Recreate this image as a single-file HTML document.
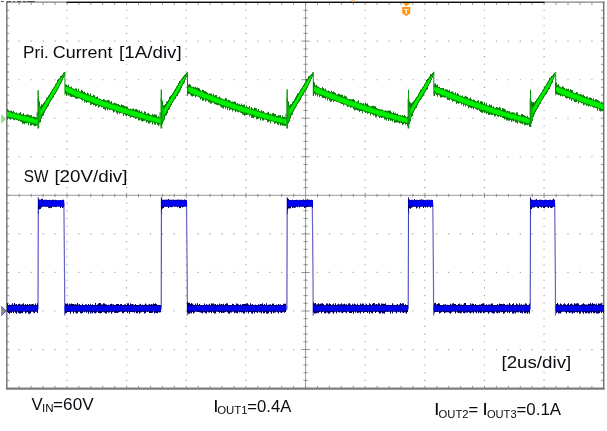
<!DOCTYPE html>
<html lang="en">
<head>
<meta charset="utf-8">
<title>Primary current and SW node waveforms</title>
<style>
html,body{margin:0;padding:0;background:#fff}
body{width:607px;height:431px;overflow:hidden}
svg{display:block}
.dots{stroke:#a2a2a2;stroke-width:1.1;fill:none}
.axis{stroke:#757575;stroke-width:.75;fill:none}
.tick{stroke:#7a7a7a;stroke-width:.8;fill:none}
.frame{stroke:#6f6f72;stroke-width:1.4;fill:none}
.frame.r{stroke:#75757a;stroke-width:1.5}
.frame.b{stroke:#7c7c7c;stroke-width:2.3}
.frame.t{stroke:#555;stroke-width:.9}
.frame.tk{stroke:#0c1010;stroke-width:1.25}
.frame.td{stroke:#333;stroke-width:.8}
.go{stroke:#087c08;stroke-width:1.05;fill:none}
.gi{fill:#00f000}
.gk{fill:#06c406}
.gs{stroke:#0b940b;stroke-width:1.7;fill:none}
.gt{stroke:#0d9a0d;stroke-width:1;fill:none}
.bo{stroke:#06066e;stroke-width:1.05;fill:none}
.bi{fill:#0000f2}
.bs{stroke:#6666c4;stroke-width:1.2;fill:none}
.br{stroke:#2c2cb2;stroke-width:.95;fill:none}
.lbl text{font-family:"Liberation Sans",sans-serif;font-size:16.8px;fill:#0b0b12;white-space:pre}
.trg{font-family:"Liberation Sans",sans-serif;font-weight:bold;font-size:8px;fill:#fff}
</style>
</head>
<body>
<svg width="607" height="431" viewBox="0 0 607 431">
<defs><filter id="soft" x="0" y="0" width="607" height="431" filterUnits="userSpaceOnUse"><feGaussianBlur stdDeviation="0.38"/></filter></defs>
<rect width="607" height="431" fill="#fff"/>
<path class="dots" d="M18.6 41.1h1.2M30.6 41.1h1.2M42.5 41.1h1.2M54.4 41.1h1.2M66.4 41.1h1.2M78.3 41.1h1.2M90.2 41.1h1.2M102.1 41.1h1.2M114.1 41.1h1.2M126 41.1h1.2M137.9 41.1h1.2M149.9 41.1h1.2M161.8 41.1h1.2M173.7 41.1h1.2M185.7 41.1h1.2M197.6 41.1h1.2M209.5 41.1h1.2M221.4 41.1h1.2M233.4 41.1h1.2M245.3 41.1h1.2M257.2 41.1h1.2M269.2 41.1h1.2M281.1 41.1h1.2M293 41.1h1.2M304.9 41.1h1.2M316.9 41.1h1.2M328.8 41.1h1.2M340.7 41.1h1.2M352.7 41.1h1.2M364.6 41.1h1.2M376.5 41.1h1.2M388.5 41.1h1.2M400.4 41.1h1.2M412.3 41.1h1.2M424.2 41.1h1.2M436.2 41.1h1.2M448.1 41.1h1.2M460 41.1h1.2M472 41.1h1.2M483.9 41.1h1.2M495.8 41.1h1.2M507.8 41.1h1.2M519.7 41.1h1.2M531.6 41.1h1.2M543.5 41.1h1.2M555.5 41.1h1.2M567.4 41.1h1.2M579.3 41.1h1.2M591.3 41.1h1.2M18.6 79.7h1.2M30.6 79.7h1.2M42.5 79.7h1.2M54.4 79.7h1.2M66.4 79.7h1.2M78.3 79.7h1.2M90.2 79.7h1.2M102.1 79.7h1.2M114.1 79.7h1.2M126 79.7h1.2M137.9 79.7h1.2M149.9 79.7h1.2M161.8 79.7h1.2M173.7 79.7h1.2M185.7 79.7h1.2M197.6 79.7h1.2M209.5 79.7h1.2M221.4 79.7h1.2M233.4 79.7h1.2M245.3 79.7h1.2M257.2 79.7h1.2M269.2 79.7h1.2M281.1 79.7h1.2M293 79.7h1.2M304.9 79.7h1.2M316.9 79.7h1.2M328.8 79.7h1.2M340.7 79.7h1.2M352.7 79.7h1.2M364.6 79.7h1.2M376.5 79.7h1.2M388.5 79.7h1.2M400.4 79.7h1.2M412.3 79.7h1.2M424.2 79.7h1.2M436.2 79.7h1.2M448.1 79.7h1.2M460 79.7h1.2M472 79.7h1.2M483.9 79.7h1.2M495.8 79.7h1.2M507.8 79.7h1.2M519.7 79.7h1.2M531.6 79.7h1.2M543.5 79.7h1.2M555.5 79.7h1.2M567.4 79.7h1.2M579.3 79.7h1.2M591.3 79.7h1.2M18.6 118.2h1.2M30.6 118.2h1.2M42.5 118.2h1.2M54.4 118.2h1.2M66.4 118.2h1.2M78.3 118.2h1.2M90.2 118.2h1.2M102.1 118.2h1.2M114.1 118.2h1.2M126 118.2h1.2M137.9 118.2h1.2M149.9 118.2h1.2M161.8 118.2h1.2M173.7 118.2h1.2M185.7 118.2h1.2M197.6 118.2h1.2M209.5 118.2h1.2M221.4 118.2h1.2M233.4 118.2h1.2M245.3 118.2h1.2M257.2 118.2h1.2M269.2 118.2h1.2M281.1 118.2h1.2M293 118.2h1.2M304.9 118.2h1.2M316.9 118.2h1.2M328.8 118.2h1.2M340.7 118.2h1.2M352.7 118.2h1.2M364.6 118.2h1.2M376.5 118.2h1.2M388.5 118.2h1.2M400.4 118.2h1.2M412.3 118.2h1.2M424.2 118.2h1.2M436.2 118.2h1.2M448.1 118.2h1.2M460 118.2h1.2M472 118.2h1.2M483.9 118.2h1.2M495.8 118.2h1.2M507.8 118.2h1.2M519.7 118.2h1.2M531.6 118.2h1.2M543.5 118.2h1.2M555.5 118.2h1.2M567.4 118.2h1.2M579.3 118.2h1.2M591.3 118.2h1.2M18.6 156.8h1.2M30.6 156.8h1.2M42.5 156.8h1.2M54.4 156.8h1.2M66.4 156.8h1.2M78.3 156.8h1.2M90.2 156.8h1.2M102.1 156.8h1.2M114.1 156.8h1.2M126 156.8h1.2M137.9 156.8h1.2M149.9 156.8h1.2M161.8 156.8h1.2M173.7 156.8h1.2M185.7 156.8h1.2M197.6 156.8h1.2M209.5 156.8h1.2M221.4 156.8h1.2M233.4 156.8h1.2M245.3 156.8h1.2M257.2 156.8h1.2M269.2 156.8h1.2M281.1 156.8h1.2M293 156.8h1.2M304.9 156.8h1.2M316.9 156.8h1.2M328.8 156.8h1.2M340.7 156.8h1.2M352.7 156.8h1.2M364.6 156.8h1.2M376.5 156.8h1.2M388.5 156.8h1.2M400.4 156.8h1.2M412.3 156.8h1.2M424.2 156.8h1.2M436.2 156.8h1.2M448.1 156.8h1.2M460 156.8h1.2M472 156.8h1.2M483.9 156.8h1.2M495.8 156.8h1.2M507.8 156.8h1.2M519.7 156.8h1.2M531.6 156.8h1.2M543.5 156.8h1.2M555.5 156.8h1.2M567.4 156.8h1.2M579.3 156.8h1.2M591.3 156.8h1.2M18.6 233.9h1.2M30.6 233.9h1.2M42.5 233.9h1.2M54.4 233.9h1.2M66.4 233.9h1.2M78.3 233.9h1.2M90.2 233.9h1.2M102.1 233.9h1.2M114.1 233.9h1.2M126 233.9h1.2M137.9 233.9h1.2M149.9 233.9h1.2M161.8 233.9h1.2M173.7 233.9h1.2M185.7 233.9h1.2M197.6 233.9h1.2M209.5 233.9h1.2M221.4 233.9h1.2M233.4 233.9h1.2M245.3 233.9h1.2M257.2 233.9h1.2M269.2 233.9h1.2M281.1 233.9h1.2M293 233.9h1.2M304.9 233.9h1.2M316.9 233.9h1.2M328.8 233.9h1.2M340.7 233.9h1.2M352.7 233.9h1.2M364.6 233.9h1.2M376.5 233.9h1.2M388.5 233.9h1.2M400.4 233.9h1.2M412.3 233.9h1.2M424.2 233.9h1.2M436.2 233.9h1.2M448.1 233.9h1.2M460 233.9h1.2M472 233.9h1.2M483.9 233.9h1.2M495.8 233.9h1.2M507.8 233.9h1.2M519.7 233.9h1.2M531.6 233.9h1.2M543.5 233.9h1.2M555.5 233.9h1.2M567.4 233.9h1.2M579.3 233.9h1.2M591.3 233.9h1.2M18.6 272.4h1.2M30.6 272.4h1.2M42.5 272.4h1.2M54.4 272.4h1.2M66.4 272.4h1.2M78.3 272.4h1.2M90.2 272.4h1.2M102.1 272.4h1.2M114.1 272.4h1.2M126 272.4h1.2M137.9 272.4h1.2M149.9 272.4h1.2M161.8 272.4h1.2M173.7 272.4h1.2M185.7 272.4h1.2M197.6 272.4h1.2M209.5 272.4h1.2M221.4 272.4h1.2M233.4 272.4h1.2M245.3 272.4h1.2M257.2 272.4h1.2M269.2 272.4h1.2M281.1 272.4h1.2M293 272.4h1.2M304.9 272.4h1.2M316.9 272.4h1.2M328.8 272.4h1.2M340.7 272.4h1.2M352.7 272.4h1.2M364.6 272.4h1.2M376.5 272.4h1.2M388.5 272.4h1.2M400.4 272.4h1.2M412.3 272.4h1.2M424.2 272.4h1.2M436.2 272.4h1.2M448.1 272.4h1.2M460 272.4h1.2M472 272.4h1.2M483.9 272.4h1.2M495.8 272.4h1.2M507.8 272.4h1.2M519.7 272.4h1.2M531.6 272.4h1.2M543.5 272.4h1.2M555.5 272.4h1.2M567.4 272.4h1.2M579.3 272.4h1.2M591.3 272.4h1.2M18.6 311h1.2M30.6 311h1.2M42.5 311h1.2M54.4 311h1.2M66.4 311h1.2M78.3 311h1.2M90.2 311h1.2M102.1 311h1.2M114.1 311h1.2M126 311h1.2M137.9 311h1.2M149.9 311h1.2M161.8 311h1.2M173.7 311h1.2M185.7 311h1.2M197.6 311h1.2M209.5 311h1.2M221.4 311h1.2M233.4 311h1.2M245.3 311h1.2M257.2 311h1.2M269.2 311h1.2M281.1 311h1.2M293 311h1.2M304.9 311h1.2M316.9 311h1.2M328.8 311h1.2M340.7 311h1.2M352.7 311h1.2M364.6 311h1.2M376.5 311h1.2M388.5 311h1.2M400.4 311h1.2M412.3 311h1.2M424.2 311h1.2M436.2 311h1.2M448.1 311h1.2M460 311h1.2M472 311h1.2M483.9 311h1.2M495.8 311h1.2M507.8 311h1.2M519.7 311h1.2M531.6 311h1.2M543.5 311h1.2M555.5 311h1.2M567.4 311h1.2M579.3 311h1.2M591.3 311h1.2M18.6 349.6h1.2M30.6 349.6h1.2M42.5 349.6h1.2M54.4 349.6h1.2M66.4 349.6h1.2M78.3 349.6h1.2M90.2 349.6h1.2M102.1 349.6h1.2M114.1 349.6h1.2M126 349.6h1.2M137.9 349.6h1.2M149.9 349.6h1.2M161.8 349.6h1.2M173.7 349.6h1.2M185.7 349.6h1.2M197.6 349.6h1.2M209.5 349.6h1.2M221.4 349.6h1.2M233.4 349.6h1.2M245.3 349.6h1.2M257.2 349.6h1.2M269.2 349.6h1.2M281.1 349.6h1.2M293 349.6h1.2M304.9 349.6h1.2M316.9 349.6h1.2M328.8 349.6h1.2M340.7 349.6h1.2M352.7 349.6h1.2M364.6 349.6h1.2M376.5 349.6h1.2M388.5 349.6h1.2M400.4 349.6h1.2M412.3 349.6h1.2M424.2 349.6h1.2M436.2 349.6h1.2M448.1 349.6h1.2M460 349.6h1.2M472 349.6h1.2M483.9 349.6h1.2M495.8 349.6h1.2M507.8 349.6h1.2M519.7 349.6h1.2M531.6 349.6h1.2M543.5 349.6h1.2M555.5 349.6h1.2M567.4 349.6h1.2M579.3 349.6h1.2M591.3 349.6h1.2M66.4 10.3h1.2M66.4 18h1.2M66.4 25.7h1.2M66.4 33.4h1.2M66.4 48.9h1.2M66.4 56.6h1.2M66.4 64.3h1.2M66.4 72h1.2M66.4 87.4h1.2M66.4 95.1h1.2M66.4 102.8h1.2M66.4 110.5h1.2M66.4 126h1.2M66.4 133.7h1.2M66.4 141.4h1.2M66.4 149.1h1.2M66.4 164.5h1.2M66.4 172.2h1.2M66.4 179.9h1.2M66.4 187.6h1.2M66.4 203.1h1.2M66.4 210.8h1.2M66.4 218.5h1.2M66.4 226.2h1.2M66.4 241.6h1.2M66.4 249.3h1.2M66.4 257h1.2M66.4 264.7h1.2M66.4 280.2h1.2M66.4 287.9h1.2M66.4 295.6h1.2M66.4 303.3h1.2M66.4 318.7h1.2M66.4 326.4h1.2M66.4 334.1h1.2M66.4 341.8h1.2M66.4 357.3h1.2M66.4 365h1.2M66.4 372.7h1.2M66.4 380.4h1.2M126 10.3h1.2M126 18h1.2M126 25.7h1.2M126 33.4h1.2M126 48.9h1.2M126 56.6h1.2M126 64.3h1.2M126 72h1.2M126 87.4h1.2M126 95.1h1.2M126 102.8h1.2M126 110.5h1.2M126 126h1.2M126 133.7h1.2M126 141.4h1.2M126 149.1h1.2M126 164.5h1.2M126 172.2h1.2M126 179.9h1.2M126 187.6h1.2M126 203.1h1.2M126 210.8h1.2M126 218.5h1.2M126 226.2h1.2M126 241.6h1.2M126 249.3h1.2M126 257h1.2M126 264.7h1.2M126 280.2h1.2M126 287.9h1.2M126 295.6h1.2M126 303.3h1.2M126 318.7h1.2M126 326.4h1.2M126 334.1h1.2M126 341.8h1.2M126 357.3h1.2M126 365h1.2M126 372.7h1.2M126 380.4h1.2M185.7 10.3h1.2M185.7 18h1.2M185.7 25.7h1.2M185.7 33.4h1.2M185.7 48.9h1.2M185.7 56.6h1.2M185.7 64.3h1.2M185.7 72h1.2M185.7 87.4h1.2M185.7 95.1h1.2M185.7 102.8h1.2M185.7 110.5h1.2M185.7 126h1.2M185.7 133.7h1.2M185.7 141.4h1.2M185.7 149.1h1.2M185.7 164.5h1.2M185.7 172.2h1.2M185.7 179.9h1.2M185.7 187.6h1.2M185.7 203.1h1.2M185.7 210.8h1.2M185.7 218.5h1.2M185.7 226.2h1.2M185.7 241.6h1.2M185.7 249.3h1.2M185.7 257h1.2M185.7 264.7h1.2M185.7 280.2h1.2M185.7 287.9h1.2M185.7 295.6h1.2M185.7 303.3h1.2M185.7 318.7h1.2M185.7 326.4h1.2M185.7 334.1h1.2M185.7 341.8h1.2M185.7 357.3h1.2M185.7 365h1.2M185.7 372.7h1.2M185.7 380.4h1.2M245.3 10.3h1.2M245.3 18h1.2M245.3 25.7h1.2M245.3 33.4h1.2M245.3 48.9h1.2M245.3 56.6h1.2M245.3 64.3h1.2M245.3 72h1.2M245.3 87.4h1.2M245.3 95.1h1.2M245.3 102.8h1.2M245.3 110.5h1.2M245.3 126h1.2M245.3 133.7h1.2M245.3 141.4h1.2M245.3 149.1h1.2M245.3 164.5h1.2M245.3 172.2h1.2M245.3 179.9h1.2M245.3 187.6h1.2M245.3 203.1h1.2M245.3 210.8h1.2M245.3 218.5h1.2M245.3 226.2h1.2M245.3 241.6h1.2M245.3 249.3h1.2M245.3 257h1.2M245.3 264.7h1.2M245.3 280.2h1.2M245.3 287.9h1.2M245.3 295.6h1.2M245.3 303.3h1.2M245.3 318.7h1.2M245.3 326.4h1.2M245.3 334.1h1.2M245.3 341.8h1.2M245.3 357.3h1.2M245.3 365h1.2M245.3 372.7h1.2M245.3 380.4h1.2M364.6 10.3h1.2M364.6 18h1.2M364.6 25.7h1.2M364.6 33.4h1.2M364.6 48.9h1.2M364.6 56.6h1.2M364.6 64.3h1.2M364.6 72h1.2M364.6 87.4h1.2M364.6 95.1h1.2M364.6 102.8h1.2M364.6 110.5h1.2M364.6 126h1.2M364.6 133.7h1.2M364.6 141.4h1.2M364.6 149.1h1.2M364.6 164.5h1.2M364.6 172.2h1.2M364.6 179.9h1.2M364.6 187.6h1.2M364.6 203.1h1.2M364.6 210.8h1.2M364.6 218.5h1.2M364.6 226.2h1.2M364.6 241.6h1.2M364.6 249.3h1.2M364.6 257h1.2M364.6 264.7h1.2M364.6 280.2h1.2M364.6 287.9h1.2M364.6 295.6h1.2M364.6 303.3h1.2M364.6 318.7h1.2M364.6 326.4h1.2M364.6 334.1h1.2M364.6 341.8h1.2M364.6 357.3h1.2M364.6 365h1.2M364.6 372.7h1.2M364.6 380.4h1.2M424.2 10.3h1.2M424.2 18h1.2M424.2 25.7h1.2M424.2 33.4h1.2M424.2 48.9h1.2M424.2 56.6h1.2M424.2 64.3h1.2M424.2 72h1.2M424.2 87.4h1.2M424.2 95.1h1.2M424.2 102.8h1.2M424.2 110.5h1.2M424.2 126h1.2M424.2 133.7h1.2M424.2 141.4h1.2M424.2 149.1h1.2M424.2 164.5h1.2M424.2 172.2h1.2M424.2 179.9h1.2M424.2 187.6h1.2M424.2 203.1h1.2M424.2 210.8h1.2M424.2 218.5h1.2M424.2 226.2h1.2M424.2 241.6h1.2M424.2 249.3h1.2M424.2 257h1.2M424.2 264.7h1.2M424.2 280.2h1.2M424.2 287.9h1.2M424.2 295.6h1.2M424.2 303.3h1.2M424.2 318.7h1.2M424.2 326.4h1.2M424.2 334.1h1.2M424.2 341.8h1.2M424.2 357.3h1.2M424.2 365h1.2M424.2 372.7h1.2M424.2 380.4h1.2M483.9 10.3h1.2M483.9 18h1.2M483.9 25.7h1.2M483.9 33.4h1.2M483.9 48.9h1.2M483.9 56.6h1.2M483.9 64.3h1.2M483.9 72h1.2M483.9 87.4h1.2M483.9 95.1h1.2M483.9 102.8h1.2M483.9 110.5h1.2M483.9 126h1.2M483.9 133.7h1.2M483.9 141.4h1.2M483.9 149.1h1.2M483.9 164.5h1.2M483.9 172.2h1.2M483.9 179.9h1.2M483.9 187.6h1.2M483.9 203.1h1.2M483.9 210.8h1.2M483.9 218.5h1.2M483.9 226.2h1.2M483.9 241.6h1.2M483.9 249.3h1.2M483.9 257h1.2M483.9 264.7h1.2M483.9 280.2h1.2M483.9 287.9h1.2M483.9 295.6h1.2M483.9 303.3h1.2M483.9 318.7h1.2M483.9 326.4h1.2M483.9 334.1h1.2M483.9 341.8h1.2M483.9 357.3h1.2M483.9 365h1.2M483.9 372.7h1.2M483.9 380.4h1.2M543.5 10.3h1.2M543.5 18h1.2M543.5 25.7h1.2M543.5 33.4h1.2M543.5 48.9h1.2M543.5 56.6h1.2M543.5 64.3h1.2M543.5 72h1.2M543.5 87.4h1.2M543.5 95.1h1.2M543.5 102.8h1.2M543.5 110.5h1.2M543.5 126h1.2M543.5 133.7h1.2M543.5 141.4h1.2M543.5 149.1h1.2M543.5 164.5h1.2M543.5 172.2h1.2M543.5 179.9h1.2M543.5 187.6h1.2M543.5 203.1h1.2M543.5 210.8h1.2M543.5 218.5h1.2M543.5 226.2h1.2M543.5 241.6h1.2M543.5 249.3h1.2M543.5 257h1.2M543.5 264.7h1.2M543.5 280.2h1.2M543.5 287.9h1.2M543.5 295.6h1.2M543.5 303.3h1.2M543.5 318.7h1.2M543.5 326.4h1.2M543.5 334.1h1.2M543.5 341.8h1.2M543.5 357.3h1.2M543.5 365h1.2M543.5 372.7h1.2M543.5 380.4h1.2"/>
<path class="axis" d="M6.6 195.3H603.7M305.6 2.3V388.6M19.2 193.7v3.4M31.2 193.7v3.4M43.1 193.7v3.4M55 193.7v3.4M67 192.8v5.2M78.9 193.7v3.4M90.8 193.7v3.4M102.7 193.7v3.4M114.7 193.7v3.4M126.6 192.8v5.2M138.5 193.7v3.4M150.5 193.7v3.4M162.4 193.7v3.4M174.3 193.7v3.4M186.2 192.8v5.2M198.2 193.7v3.4M210.1 193.7v3.4M222 193.7v3.4M234 193.7v3.4M245.9 192.8v5.2M257.8 193.7v3.4M269.8 193.7v3.4M281.7 193.7v3.4M293.6 193.7v3.4M317.5 193.7v3.4M329.4 193.7v3.4M341.3 193.7v3.4M353.3 193.7v3.4M365.2 192.8v5.2M377.1 193.7v3.4M389.1 193.7v3.4M401 193.7v3.4M412.9 193.7v3.4M424.9 192.8v5.2M436.8 193.7v3.4M448.7 193.7v3.4M460.6 193.7v3.4M472.6 193.7v3.4M484.5 192.8v5.2M496.4 193.7v3.4M508.4 193.7v3.4M520.3 193.7v3.4M532.2 193.7v3.4M544.1 192.8v5.2M556.1 193.7v3.4M568 193.7v3.4M579.9 193.7v3.4M591.9 193.7v3.4M303.4 10.3h4.4M303.4 18h4.4M303.4 25.7h4.4M303.4 33.4h4.4M301.4 41.1h8.4M303.4 48.9h4.4M303.4 56.6h4.4M303.4 64.3h4.4M303.4 72h4.4M301.4 79.7h8.4M303.4 87.4h4.4M303.4 95.1h4.4M303.4 102.8h4.4M303.4 110.5h4.4M301.4 118.2h8.4M303.4 126h4.4M303.4 133.7h4.4M303.4 141.4h4.4M303.4 149.1h4.4M301.4 156.8h8.4M303.4 164.5h4.4M303.4 172.2h4.4M303.4 179.9h4.4M303.4 187.6h4.4M303.4 203.1h4.4M303.4 210.8h4.4M303.4 218.5h4.4M303.4 226.2h4.4M301.4 233.9h8.4M303.4 241.6h4.4M303.4 249.3h4.4M303.4 257h4.4M303.4 264.7h4.4M301.4 272.5h8.4M303.4 280.2h4.4M303.4 287.9h4.4M303.4 295.6h4.4M303.4 303.3h4.4M301.4 311h8.4M303.4 318.7h4.4M303.4 326.4h4.4M303.4 334.1h4.4M303.4 341.8h4.4M301.4 349.5h8.4M303.4 357.3h4.4M303.4 365h4.4M303.4 372.7h4.4M303.4 380.4h4.4"/>
<path class="tick" d="M19.2 2.3v2.6M19.2 388.6v-2.8M31.2 2.3v2.6M31.2 388.6v-2.8M43.1 2.3v2.6M43.1 388.6v-2.8M55 2.3v2.6M55 388.6v-2.8M67 2.3v2.6M67 388.6v-2.8M78.9 2.3v2.6M78.9 388.6v-2.8M90.8 2.3v2.6M90.8 388.6v-2.8M102.7 2.3v2.6M102.7 388.6v-2.8M114.7 2.3v2.6M114.7 388.6v-2.8M126.6 2.3v2.6M126.6 388.6v-2.8M138.5 2.3v2.6M138.5 388.6v-2.8M150.5 2.3v2.6M150.5 388.6v-2.8M162.4 2.3v2.6M162.4 388.6v-2.8M174.3 2.3v2.6M174.3 388.6v-2.8M186.2 2.3v2.6M186.2 388.6v-2.8M198.2 2.3v2.6M198.2 388.6v-2.8M210.1 2.3v2.6M210.1 388.6v-2.8M222 2.3v2.6M222 388.6v-2.8M234 2.3v2.6M234 388.6v-2.8M245.9 2.3v2.6M245.9 388.6v-2.8M257.8 2.3v2.6M257.8 388.6v-2.8M269.8 2.3v2.6M269.8 388.6v-2.8M281.7 2.3v2.6M281.7 388.6v-2.8M293.6 2.3v2.6M293.6 388.6v-2.8M305.6 2.3v2.6M305.6 388.6v-2.8M317.5 2.3v2.6M317.5 388.6v-2.8M329.4 2.3v2.6M329.4 388.6v-2.8M341.3 2.3v2.6M341.3 388.6v-2.8M353.3 2.3v2.6M353.3 388.6v-2.8M365.2 2.3v2.6M365.2 388.6v-2.8M377.1 2.3v2.6M377.1 388.6v-2.8M389.1 2.3v2.6M389.1 388.6v-2.8M401 2.3v2.6M401 388.6v-2.8M412.9 2.3v2.6M412.9 388.6v-2.8M424.9 2.3v2.6M424.9 388.6v-2.8M436.8 2.3v2.6M436.8 388.6v-2.8M448.7 2.3v2.6M448.7 388.6v-2.8M460.6 2.3v2.6M460.6 388.6v-2.8M472.6 2.3v2.6M472.6 388.6v-2.8M484.5 2.3v2.6M484.5 388.6v-2.8M496.4 2.3v2.6M496.4 388.6v-2.8M508.4 2.3v2.6M508.4 388.6v-2.8M520.3 2.3v2.6M520.3 388.6v-2.8M532.2 2.3v2.6M532.2 388.6v-2.8M544.1 2.3v2.6M544.1 388.6v-2.8M556.1 2.3v2.6M556.1 388.6v-2.8M568 2.3v2.6M568 388.6v-2.8M579.9 2.3v2.6M579.9 388.6v-2.8M591.9 2.3v2.6M591.9 388.6v-2.8M6.6 10.3h2.6M603.7 10.3h-2.8M6.6 18h2.6M603.7 18h-2.8M6.6 25.7h2.6M603.7 25.7h-2.8M6.6 33.4h2.6M603.7 33.4h-2.8M6.6 41.1h2.6M603.7 41.1h-2.8M6.6 48.9h2.6M603.7 48.9h-2.8M6.6 56.6h2.6M603.7 56.6h-2.8M6.6 64.3h2.6M603.7 64.3h-2.8M6.6 72h2.6M603.7 72h-2.8M6.6 79.7h2.6M603.7 79.7h-2.8M6.6 87.4h2.6M603.7 87.4h-2.8M6.6 95.1h2.6M603.7 95.1h-2.8M6.6 102.8h2.6M603.7 102.8h-2.8M6.6 110.5h2.6M603.7 110.5h-2.8M6.6 118.2h2.6M603.7 118.2h-2.8M6.6 126h2.6M603.7 126h-2.8M6.6 133.7h2.6M603.7 133.7h-2.8M6.6 141.4h2.6M603.7 141.4h-2.8M6.6 149.1h2.6M603.7 149.1h-2.8M6.6 156.8h2.6M603.7 156.8h-2.8M6.6 164.5h2.6M603.7 164.5h-2.8M6.6 172.2h2.6M603.7 172.2h-2.8M6.6 179.9h2.6M603.7 179.9h-2.8M6.6 187.6h2.6M603.7 187.6h-2.8M6.6 195.3h2.6M603.7 195.3h-2.8M6.6 203.1h2.6M603.7 203.1h-2.8M6.6 210.8h2.6M603.7 210.8h-2.8M6.6 218.5h2.6M603.7 218.5h-2.8M6.6 226.2h2.6M603.7 226.2h-2.8M6.6 233.9h2.6M603.7 233.9h-2.8M6.6 241.6h2.6M603.7 241.6h-2.8M6.6 249.3h2.6M603.7 249.3h-2.8M6.6 257h2.6M603.7 257h-2.8M6.6 264.7h2.6M603.7 264.7h-2.8M6.6 272.5h2.6M603.7 272.5h-2.8M6.6 280.2h2.6M603.7 280.2h-2.8M6.6 287.9h2.6M603.7 287.9h-2.8M6.6 295.6h2.6M603.7 295.6h-2.8M6.6 303.3h2.6M603.7 303.3h-2.8M6.6 311h2.6M603.7 311h-2.8M6.6 318.7h2.6M603.7 318.7h-2.8M6.6 326.4h2.6M603.7 326.4h-2.8M6.6 334.1h2.6M603.7 334.1h-2.8M6.6 341.8h2.6M603.7 341.8h-2.8M6.6 349.5h2.6M603.7 349.5h-2.8M6.6 357.3h2.6M603.7 357.3h-2.8M6.6 365h2.6M603.7 365h-2.8M6.6 372.7h2.6M603.7 372.7h-2.8M6.6 380.4h2.6M603.7 380.4h-2.8"/>
<path class="frame" d="M6.8 1.8V389.6"/>
<path class="frame r" d="M603.7 1.8V389.6"/>
<path class="frame b" d="M6 388.6H604.5"/>
<path class="frame t" d="M6 2.1H604.5"/>
<path class="frame tk" d="M66.5 2.3H544.6"/>
<path class="frame td" d="M1 1.6h3M7 1.6h4M13 1.6h2M17 1.5h4M23 1.6h3M27 1.5h8"/>
<g class="g" filter="url(#soft)">
<path class="gs" d="M38.3 98.5V128.2M38.3 98.5V128.6M161.4 98.5V127.9M161.4 98.5V128.4M287.2 98.5V127.8M287.2 98.5V128.5M408.5 98.5V128.6M530.5 98.5V127.1"/>
<path class="gt" d="M64.9 72V94.8M187.5 72V95.8M313.3 72V95.8M433.8 72V95.7M555.7 72V95.4M38.2 90.5V102M38.2 90.1V102M161.3 89.3V102M161.3 90.3V102M287.2 90.3V102M287.2 89V102M408.5 89.7V102M530.5 89.6V102"/>
<path class="go" d="M7.5 108.9V119.5M8.5 110.3V117.9M9.5 111V118.9M10.5 110.7V119.8M11.5 110.8V118.7M12.5 111.8V119.1M13.5 110.7V119.8M14.5 112.2V120.2M15.5 113V119.6M16.5 112.4V120M17.5 113.5V120.2M18.5 113.5V120.9M19.5 113.2V120.7M20.5 112.1V121.4M21.5 114.1V121.9M22.5 114.5V123.7M23.5 113.1V123.6M24.5 115.1V124.3M25.5 115.2V122.9M26.5 114.5V123.6M27.5 114.2V122.8M28.5 114.8V125.2M29.5 115.4V123.1M30.5 115.2V125.5M31.5 115.2V125.5M32.5 117.1V124.4M33.5 116.5V125.2M34.5 116.7V126.3M35.5 117.3V126.1M36.5 117.4V125.5M37.1 112.2V125.6M39.5 101.5V122.8M40.5 106.3V122.2M41.5 104.2V118.6M42.5 104.4V116.2M43.5 103V115.5M44.5 101.8V112.7M45.5 100.4V110.5M46.5 97.8V108.7M47.5 97.2V107.3M48.5 95.6V105.9M49.5 94.2V103.6M50.5 92.3V101.8M51.5 90.7V100.2M52.5 89V98.5M53.5 87.6V97.4M54.5 86.1V95M55.5 84.1V93.7M56.5 82.7V91.9M57.5 79.7V90.2M58.5 79.1V88.4M59.5 77.9V86.3M60.5 76.1V84.3M61.5 75.5V82.7M62.5 74.5V80.4M63.5 72.7V78M64.5 71.9V75.8M65.5 84.4V93.6M66.5 84.7V95.7M67.5 85.7V94.6M68.5 84.7V95.6M69.5 86.9V95.6M70.5 87.3V96.7M71.5 86.4V96.9M72.5 88.2V96.7M73.5 88.8V97M74.5 89.2V97.3M75.5 88.5V98.5M76.5 88.4V98.9M77.5 90.4V98.5M78.5 88.8V98.5M79.5 91.2V98.5M80.5 91.6V99.1M81.5 89.8V99.7M82.5 90.5V100.7M83.5 92.1V100.1M84.5 91.4V102.6M85.5 93V101.4M86.5 93.9V103.1M87.5 92.5V102M88.5 93.5V102.5M89.5 95.1V102.3M90.5 93.5V104.9M91.5 95.7V104.5M92.5 95.9V104.1M93.5 94.7V105.4M94.5 95.2V105M95.5 97.3V106.4M96.5 97.1V106.1M97.5 96.6V105.2M98.5 98.5V107.7M99.5 98.6V106.8M100.5 99V106.2M101.5 99.5V107.6M102.5 99.9V106.9M103.5 99V109M104.5 99.4V109.3M105.5 100.3V110.4M106.5 100.4V108.5M107.5 100.2V110.3M108.5 99.8V109M109.5 100.8V109.9M110.5 102.3V109.9M111.5 101.1V110M112.5 103.4V110.5M113.5 103.3V112.5M114.5 102.5V111.8M115.5 103.2V111.3M116.5 103.5V112.7M117.5 104.2V114.2M118.5 104V112.5M119.5 105V113.8M120.5 105.7V113M121.5 104.3V113.3M122.5 105.1V113.6M123.5 105.2V116.1M124.5 105.9V114.2M125.5 106.6V115.5M126.5 106.2V116.2M127.5 106.7V115.2M128.5 108.6V116.1M129.5 109V116.3M130.5 108.4V117.7M131.5 109.6V117M132.5 108.7V117.1M133.5 108.5V117.7M134.5 109.8V117.4M135.5 109.2V119M136.5 109V118.5M137.5 109.8V118.3M138.5 110.8V120.5M139.5 110V120.3M140.5 112V119.4M141.5 110.7V121.2M142.5 112.4V121.6M143.5 113.2V121M144.5 111.3V120.8M145.5 112V120.6M146.5 114V122.7M147.5 113.6V121.7M148.5 113V123.6M149.5 114V123.5M150.5 115.1V122.5M151.5 115.3V122M152.5 114V124.4M153.5 114.8V122.6M154.5 114.4V124.6M155.5 114.5V124.7M156.5 114.7V123.3M157.5 116.9V124.7M158.5 116.3V125.9M159.5 117.4V124.1M160.1 112.3V125.6M162.5 101V123.7M163.5 105.4V121.6M164.5 104.9V119.4M165.5 104V116M166.5 101.5V115.1M167.5 101.3V113.2M168.5 99.8V110.1M169.5 97V109.6M170.5 95.8V106.8M171.5 95.1V105.3M172.5 93.5V103.1M173.5 91.8V101.4M174.5 89.9V99.7M175.5 88.5V98.8M176.5 86.4V96.5M177.5 85.2V96.1M178.5 83V93.7M179.5 81.1V92.5M180.5 80.6V90.5M181.5 78.7V88.3M182.5 77.5V85.8M183.5 76.3V84M184.5 75.1V82.4M185.5 74.1V79.5M186.5 72.7V77.2M187.5 82.1V93.6M188.5 84.7V93.9M189.5 84.1V93.8M190.5 84.8V95M191.5 86.6V96.2M192.5 87.1V96.5M193.5 86.6V95.9M194.5 87.6V95.4M195.5 86.7V97.6M196.5 87.7V96.2M197.5 87.5V96.6M198.5 88.1V97M199.5 88.5V97.6M200.5 90.3V99.6M201.5 90.8V98.5M202.5 89.7V100.9M203.5 89.9V100.5M204.5 91.2V99.4M205.5 91V101.8M206.5 92V100.4M207.5 92.8V100.5M208.5 93.7V102.2M209.5 93.5V102.2M210.5 93.6V103.7M211.5 93.4V103.4M212.5 95.2V102.6M213.5 93.7V102.8M214.5 95.8V104.2M215.5 95.1V104.2M216.5 95.1V104.8M217.5 97V105.3M218.5 97.5V105.1M219.5 96.5V105.3M220.5 97.5V106.6M221.5 98.4V107.5M222.5 98.7V107.7M223.5 99.3V108.8M224.5 99.4V106.9M225.5 98.1V108.7M226.5 98.3V107.4M227.5 100.4V109.9M228.5 99.7V108.1M229.5 100V110.6M230.5 101.3V109.5M231.5 101.8V109.6M232.5 101.5V111.6M233.5 102V110.1M234.5 101.4V110.4M235.5 101.7V112.2M236.5 103.8V111.3M237.5 103V111.8M238.5 104.5V112.6M239.5 103.8V111.8M240.5 104.9V112.8M241.5 103.5V113M242.5 104.9V114.4M243.5 104.8V114.8M244.5 104.6V115.7M245.5 106.9V115.3M246.5 105.6V115.1M247.5 107.3V114.8M248.5 107.5V114.6M249.5 106V116.4M250.5 108.5V115.2M251.5 107.1V117.9M252.5 108.5V117.7M253.5 109.2V118.3M254.5 107.5V117.3M255.5 108.1V116.8M256.5 108.6V119.3M257.5 110.5V119.3M258.5 108.9V118.7M259.5 111V118M260.5 111.5V120.4M261.5 109.9V118.5M262.5 111.4V120.6M263.5 110.9V120.6M264.5 112.4V119.4M265.5 112.9V119.7M266.5 113.2V119.9M267.5 112.4V122.2M268.5 111.7V122M269.5 114.1V121.1M270.5 113.5V123.3M271.5 114.6V121.3M272.5 113.3V121.6M273.5 113.1V121.8M274.5 114.1V124.1M275.5 113.9V123.2M276.5 116V123.1M277.5 116.1V124.5M278.5 114.9V124.9M279.5 115.6V123.5M280.5 115V125.8M281.5 117.4V124.8M282.5 115.6V125.7M283.5 117.1V125.4M284.5 116.7V125.7M285.5 117.4V126M286.1 113.8V125.6M288.5 101.6V123.2M289.5 105.5V121.6M290.5 104.3V118.4M291.5 103.9V115.5M292.5 101.7V114.4M293.5 101V111.5M294.5 99.2V109.7M295.5 97.2V107.9M296.5 95.4V106.2M297.5 93.6V104.3M298.5 92.9V102.7M299.5 91.5V101.6M300.5 89.6V99.9M301.5 88.2V97.7M302.5 86.6V95.9M303.5 84.9V94.4M304.5 83.2V92.5M305.5 81.7V91.1M306.5 79V89.7M307.5 78.5V87.5M308.5 76.2V85.4M309.5 76.1V83.3M310.5 74.9V81.2M311.5 73.9V79M312.5 72.5V76.9M313.5 81.8V95.9M314.5 82.6V93.8M315.5 85.4V95.4M316.5 84.7V94.2M317.5 86.2V96.5M318.5 86.8V94.8M319.5 87.5V96.9M320.5 88V96M321.5 88.6V96.6M322.5 87V98M323.5 88.2V98M324.5 89.4V97.9M325.5 88.4V99.3M326.5 90.6V97.8M327.5 90.9V100.6M328.5 90.4V98.7M329.5 91.2V100.6M330.5 92.2V101.9M331.5 90.6V101.4M332.5 92V100.2M333.5 91.4V101.9M334.5 92.2V101M335.5 92.9V101.3M336.5 94.5V101.7M337.5 94.6V102.1M338.5 93.6V102.6M339.5 93.9V102.8M340.5 94.8V103.2M341.5 94.4V103.9M342.5 94.9V103.9M343.5 96.7V105.5M344.5 95.4V104.6M345.5 96.3V105M346.5 96.4V105.5M347.5 98.5V107.1M348.5 99V106.6M349.5 99.1V106.4M350.5 99.3V107.7M351.5 99.5V107.3M352.5 99V107.5M353.5 99V109M354.5 100V110.6M355.5 101.5V109.7M356.5 101.8V110.1M357.5 101.4V110.5M358.5 100.3V110.5M359.5 102.9V112M360.5 102.7V111.1M361.5 103.3V110.9M362.5 103.8V113.2M363.5 103.1V111.3M364.5 104.6V111.8M365.5 102.8V112.9M366.5 103.7V112.6M367.5 103.6V113.7M368.5 105.3V113.2M369.5 106V113.1M370.5 106.4V115.5M371.5 105.9V113.8M372.5 105.7V114.6M373.5 106.3V115.8M374.5 105.8V115M375.5 106.6V117.2M376.5 107.9V117.2M377.5 108.5V115.6M378.5 109.1V116.4M379.5 108.9V118.1M380.5 109.4V117.3M381.5 109.5V117.9M382.5 109.5V117.7M383.5 110.5V117.4M384.5 110.8V119.5M385.5 110.2V119.4M386.5 111V120.4M387.5 110.8V118.7M388.5 110.6V120.9M389.5 110.4V119.5M390.5 110.8V121M391.5 112.3V120.2M392.5 113.1V121.7M393.5 111.6V120.3M394.5 113.3V123M395.5 112.7V122.3M396.5 114V122.4M397.5 113.4V122.4M398.5 114.7V122.6M399.5 115.2V123.6M400.5 114.9V122.8M401.5 115.8V122.9M402.5 115.1V124.9M403.5 116V124.2M404.5 115V123.2M405.5 116.2V124.8M406.5 117.2V124M407.5 116.6V126M409.5 101.5V124M410.5 102.7V121.4M411.5 103.3V116.9M412.5 102.2V116.1M413.5 101.3V112.5M414.5 99.9V110.5M415.5 98.6V108.7M416.5 97V107.8M417.5 95.7V105.2M418.5 93.8V103.2M419.5 92.1V101.5M420.5 89.7V100.1M421.5 89V98.8M422.5 87.2V96.9M423.5 85.9V95.8M424.5 84.1V93.4M425.5 82.6V91.7M426.5 80V90M427.5 78.9V89.4M428.5 77.7V86M429.5 76.5V83.9M430.5 74.1V82.6M431.5 74.2V79.9M432.5 73.1V77.9M433.5 71.8V75.6M434.5 83.8V96M435.5 83.5V93.8M436.5 85.3V95M437.5 84.6V96.8M438.5 86.9V94.7M439.5 86.8V95.5M440.5 88V97.5M441.5 87.9V97.5M442.5 88.3V96.9M443.5 88.1V97.2M444.5 89.7V97.4M445.5 89.2V97.4M446.5 89.6V97.7M447.5 89.6V100.1M448.5 90.7V99.8M449.5 89.8V100.6M450.5 92V99.2M451.5 91.6V100M452.5 91.4V101.8M453.5 92.6V100.9M454.5 93.6V101.2M455.5 92.2V101.4M456.5 94.4V103.9M457.5 93V103.1M458.5 94V103.7M459.5 95.5V103.3M460.5 95.4V103M461.5 96.1V104.8M462.5 95.6V103.8M463.5 97V106.2M464.5 96.8V104.8M465.5 95.8V106.6M466.5 96.6V105.2M467.5 97V105.9M468.5 98.8V108.2M469.5 98.6V107.3M470.5 97.5V107.8M471.5 99.3V108.4M472.5 99.9V107.8M473.5 99.6V109.6M474.5 99.9V108M475.5 101V108.7M476.5 101.5V109.5M477.5 100.8V109.9M478.5 100.2V109.5M479.5 102.7V110.9M480.5 101.3V112M481.5 101.3V112.5M482.5 101.8V112.9M483.5 103.7V111.7M484.5 102.3V113.2M485.5 104.4V112.6M486.5 102.9V113.9M487.5 105.4V113M488.5 105.8V115.1M489.5 104.3V115.1M490.5 105.2V114.2M491.5 104.8V115M492.5 107V115M493.5 106.2V114.5M494.5 107.7V116.4M495.5 107.9V116.3M496.5 107V115.2M497.5 107.3V116.6M498.5 108.1V117.1M499.5 107.1V116.1M500.5 107.8V117M501.5 109.9V116.7M502.5 108.1V118.1M503.5 108.5V118.1M504.5 108.7V119.6M505.5 109.8V118.9M506.5 111.2V120.6M507.5 110.8V120.3M508.5 111.3V120.7M509.5 111.3V120.8M510.5 112.6V119.9M511.5 112.4V121.9M512.5 112.2V120.5M513.5 112.5V121.6M514.5 112.8V120.8M515.5 114V122.6M516.5 112.2V122.5M517.5 112.4V123.7M518.5 114.8V121.6M519.5 115.2V122.8M520.5 115.4V123.4M521.5 114V123.6M522.5 114V124.3M523.5 114.9V123.3M524.5 115.5V125.5M525.5 115.9V125.1M526.5 117.1V124.7M527.5 115.7V125.3M528.5 117.6V124.7M529.5 117.9V126.7M531.5 101.5V123.3M532.5 102.2V120.9M533.5 102V116.9M534.5 102.5V114.5M535.5 101.1V112.3M536.5 99.5V110.3M537.5 98.3V108.5M538.5 96.8V106.9M539.5 95.2V104.8M540.5 93.6V103.7M541.5 92.2V101.3M542.5 90.3V99.8M543.5 88.7V98.2M544.5 86.5V96.5M545.5 85.7V94.9M546.5 83.7V93.9M547.5 82.1V92.2M548.5 80.4V89.9M549.5 77.9V89.2M550.5 77.6V86.4M551.5 76.1V84.2M552.5 75.5V82.7M553.5 74V79.5M554.5 72.8V77.3M555.5 83V93.6M556.5 82.4V94.2M557.5 84.9V94.5M558.5 84.1V95.2M559.5 86.2V94.9M560.5 87V96.3M561.5 87.5V95.6M562.5 86.3V96.4M563.5 86.7V95.8M564.5 88V96.2M565.5 89.3V97.8M566.5 88.5V98.5M567.5 89.3V98.3M568.5 88.8V97.9M569.5 90.4V99.7M570.5 89.1V98.5M571.5 89.9V100.9M572.5 90.1V99.3M573.5 92.4V100.2M574.5 92.8V101.9M575.5 93.2V102.2M576.5 92V102M577.5 92.5V101.2M578.5 94.3V103.4M579.5 94.4V102M580.5 94V102.5M581.5 94.5V103.2M582.5 95.3V103.2M583.5 94.5V105.2M584.5 95.9V104.7M585.5 97V104.2M586.5 96.4V106.1M587.5 96.6V105.2M588.5 98.1V106.6M589.5 97.5V105.7M590.5 97.5V106.4M591.5 97.9V106.3M592.5 99.6V106.7M593.5 98.3V107.7M594.5 100.3V107.4M595.5 99.3V107.9M596.5 99.2V108.3M597.5 100.1V110.8M598.5 100.6V108.8M599.5 101.3V110.7M600.5 102.4V111.4M601.5 101.6V110.8M602.5 103.1V111.2M603.5 102.9V110.4"/>
<polygon class="gk" points="38.9,105 40.9,109.5 40.9,117.5 38.9,122.5"/>
<polygon class="gk" points="38.9,105 40.9,109.5 40.9,117.5 38.9,122.5"/>
<polygon class="gk" points="162,105 164,109.5 164,117.5 162,122.5"/>
<polygon class="gk" points="162,105 164,109.5 164,117.5 162,122.5"/>
<polygon class="gk" points="287.8,105 289.8,109.5 289.8,117.5 287.8,122.5"/>
<polygon class="gk" points="287.8,105 289.8,109.5 289.8,117.5 287.8,122.5"/>
<polygon class="gk" points="409.1,105 411.1,109.5 411.1,117.5 409.1,122.5"/>
<polygon class="gk" points="531.1,105 533.1,109.5 533.1,117.5 531.1,122.5"/>
<polygon class="gi" points="7,111.5 7.5,112 8,112 8.5,111.6 9,111.7 9.5,111.9 10,112.4 10.5,112.2 11,112.8 11.5,112.9 12,113.4 12.5,113.4 13,112.9 13.5,113.1 14,113.1 14.5,113.7 15,113.8 15.5,113.4 16,114.2 16.5,113.9 17,114.2 17.5,114.7 18,114.2 18.5,114.6 19,115 19.5,115.4 20,114.9 20.5,114.8 21,114.8 21.5,115.7 22,115.9 22.5,115.8 23,115.9 23.5,116.2 24,116 24.5,115.7 25,116.4 25.5,116.7 26,116.4 26.5,116.2 27,116.5 27.5,116.5 28,116.7 28.5,117.1 29,116.9 29.5,117.5 30,117.9 30.5,117.5 31,117.7 31.5,118.4 32,117.8 32.5,117.9 33,118.4 33.5,118 34,118.5 34.5,119.2 35,118.9 35.5,119.2 36,119.5 36.5,119.6 37,119.3 37.5,119.1 37.5,124.4 37,124 36.5,124.3 36,124.1 35.5,123.3 35,123.7 34.5,123.7 34,123.4 33.5,123.2 33,122.9 32.5,123 32,122.6 31.5,122.4 31,123 30.5,122.4 30,122.7 29.5,122.6 29,122.1 28.5,122.4 28,121.6 27.5,122 27,121.2 26.5,121.5 26,121.5 25.5,121 25,121.6 24.5,121.2 24,121 23.5,121.2 23,120.6 22.5,120.6 22,120.2 21.5,120.3 21,120.3 20.5,120 20,120.2 19.5,119.4 19,119.4 18.5,119.9 18,119.5 17.5,119.5 17,119 16.5,119.1 16,118.8 15.5,118.5 15,118.2 14.5,118.4 14,118.5 13.5,118.6 13,117.8 12.5,117.8 12,117.5 11.5,117.7 11,118.1 10.5,117.3 10,117.7 9.5,116.9 9,117.1 8.5,117.1 8,116.8 7.5,116.4 7,116.3"/>
<polygon class="gi" points="65.2,86.9 65.7,87 66.2,87.1 66.7,86.7 67.2,86.8 67.7,86.8 68.2,87.6 68.7,87.5 69.2,87.8 69.7,88.5 70.2,88.3 70.7,88.1 71.2,88.6 71.7,89.3 72.2,88.7 72.7,89.4 73.2,89.6 73.7,89.8 74.2,90.3 74.7,89.9 75.2,90 75.7,90.6 76.2,90.6 76.7,91.3 77.2,91.5 77.7,91.7 78.2,91.3 78.7,91.6 79.2,91.5 79.7,91.9 80.2,92.8 80.7,93 81.2,93.2 81.7,92.7 82.2,92.9 82.7,93.5 83.2,93.9 83.7,93.9 84.2,93.5 84.7,94.6 85.2,94.6 85.7,94.2 86.2,94.6 86.7,95.4 87.2,95 87.7,95.5 88.2,95.1 88.7,96.1 89.2,95.5 89.7,96.5 90.2,96.1 90.7,96.1 91.2,97.1 91.7,96.8 92.2,96.9 92.7,97.5 93.2,97.1 93.7,97.3 94.2,97.5 94.7,97.6 95.2,98 95.7,98.4 96.2,98.4 96.7,98.7 97.2,98.9 97.7,99 98.2,98.7 98.7,99.1 99.2,99.8 99.7,99.6 100.2,100 100.7,99.7 101.2,100.1 101.7,100.8 102.2,100.7 102.7,101.3 103.2,101.2 103.7,101.2 104.2,101.4 104.7,101.6 105.2,102 105.7,102.4 106.2,102.2 106.7,102.6 107.2,102.1 107.7,102.2 108.2,102.4 108.7,103.3 109.2,102.8 109.7,103.5 110.2,103.9 110.7,103.4 111.2,103.7 111.7,104.5 112.2,103.9 112.7,104.4 113.2,104.2 113.7,104.9 114.2,104.9 114.7,104.6 115.2,105.3 115.7,104.9 116.2,105.8 116.7,105.3 117.2,105.4 117.7,105.8 118.2,106.1 118.7,106.7 119.2,106.2 119.7,106.8 120.2,106.5 120.7,107.2 121.2,106.8 121.7,107.5 122.2,107.1 122.7,107.3 123.2,107.8 123.7,108.1 124.2,107.9 124.7,108.4 125.2,108.1 125.7,108.2 126.2,108.6 126.7,109.2 127.2,109.1 127.7,109.1 128.2,109.2 128.7,109.8 129.2,109.4 129.7,110.3 130.2,110.4 130.7,110.2 131.2,110.3 131.7,110.7 132.2,110.5 132.7,111 133.2,110.9 133.7,110.7 134.2,110.9 134.7,111.2 135.2,111.2 135.7,112.1 136.2,111.7 136.7,111.9 137.2,111.9 137.7,112.1 138.2,113 138.7,112.4 139.2,112.6 139.7,112.5 140.2,113.1 140.7,112.9 141.2,112.9 141.7,113.1 142.2,113.2 142.7,113.6 143.2,114.1 143.7,114.4 144.2,114.5 144.7,114.3 145.2,115 145.7,114.9 146.2,114.4 146.7,115.4 147.2,115.4 147.7,114.9 148.2,115.4 148.7,115.8 149.2,115.8 149.7,116 150.2,115.7 150.7,115.7 151.2,115.8 151.7,116.4 152.2,116.6 152.7,116.6 153.2,117.1 153.7,116.9 154.2,117.2 154.7,117.4 155.2,116.9 155.7,117.7 156.2,117.8 156.7,117.7 157.2,117.8 157.7,118.3 158.2,118.3 158.7,117.9 159.2,118.6 159.7,118.6 160.2,118.2 160.7,118.9 160.7,123.7 160.2,123.2 159.7,122.8 159.2,122.9 158.7,122.8 158.2,122.5 157.7,122.9 157.2,122.8 156.7,122.4 156.2,122.8 155.7,121.9 155.2,121.9 154.7,121.7 154.2,121.4 153.7,121.7 153.2,121.8 152.7,121 152.2,121.5 151.7,121.3 151.2,121.4 150.7,120.8 150.2,120.3 149.7,120.8 149.2,120.9 148.7,120.7 148.2,120.6 147.7,120.1 147.2,120.3 146.7,120 146.2,120 145.7,119.7 145.2,119.1 144.7,119.1 144.2,119.5 143.7,119.2 143.2,118.9 142.7,118.5 142.2,118.1 141.7,118.3 141.2,118.1 140.7,118.2 140.2,118 139.7,117.8 139.2,117.6 138.7,118.1 138.2,117.5 137.7,117.8 137.2,117.1 136.7,117 136.2,116.6 135.7,116.9 135.2,116.9 134.7,116.1 134.2,116.5 133.7,115.8 133.2,115.8 132.7,116 132.2,116 131.7,116 131.2,115.4 130.7,115.6 130.2,115 129.7,114.5 129.2,114.7 128.7,114.7 128.2,114 127.7,113.8 127.2,113.8 126.7,113.8 126.2,113.7 125.7,113.4 125.2,113.2 124.7,113.1 124.2,112.9 123.7,113.5 123.2,112.8 122.7,113.1 122.2,113 121.7,112.7 121.2,112.7 120.7,112.1 120.2,111.5 119.7,112 119.2,112.1 118.7,111.2 118.2,111.7 117.7,110.8 117.2,111.3 116.7,110.6 116.2,111.1 115.7,111 115.2,110.4 114.7,110 114.2,110 113.7,109.4 113.2,109.5 112.7,109.4 112.2,109.3 111.7,109.5 111.2,109 110.7,109.3 110.2,109.2 109.7,108.2 109.2,108.6 108.7,108.6 108.2,108.2 107.7,107.6 107.2,107.6 106.7,107.1 106.2,107.8 105.7,106.9 105.2,107.4 104.7,107.3 104.2,106.7 103.7,106.7 103.2,106.3 102.7,106.1 102.2,106.2 101.7,105.8 101.2,105.4 100.7,105.5 100.2,105.5 99.7,105.1 99.2,104.9 98.7,104.7 98.2,104.8 97.7,104 97.2,103.7 96.7,104 96.2,104.2 95.7,104 95.2,103.4 94.7,103.7 94.2,103 93.7,103 93.2,102.5 92.7,102.3 92.2,102.7 91.7,102.6 91.2,102.1 90.7,101.3 90.2,101.7 89.7,101.6 89.2,101.6 88.7,101.4 88.2,100.5 87.7,100.4 87.2,100.9 86.7,100.2 86.2,100.4 85.7,100.2 85.2,99.7 84.7,99.8 84.2,99.5 83.7,99.5 83.2,99 82.7,99.2 82.2,98.3 81.7,98.1 81.2,98.1 80.7,98.5 80.2,97.8 79.7,97.8 79.2,97.2 78.7,96.8 78.2,97.1 77.7,97.1 77.2,97 76.7,97 76.2,96 75.7,96.4 75.2,96.1 74.7,95.5 74.2,95.7 73.7,95.8 73.2,94.6 72.7,94.5 72.2,95.1 71.7,94.1 71.2,94 70.7,93.7 70.2,93.9 69.7,94.2 69.2,93.1 68.7,93.1 68.2,92.7 67.7,93.2 67.2,92.4 66.7,91.7 66.2,91.2 65.7,90.8 65.2,90.3"/>
<polygon class="gi" points="187.9,87.5 188.4,87.3 188.9,87.2 189.4,87.6 189.9,87.7 190.4,86.8 190.9,87.8 191.4,87.7 191.9,87.6 192.4,87.8 192.9,88 193.4,89 193.9,89.1 194.4,89.3 194.9,88.9 195.4,89.3 195.9,89.1 196.4,89.7 196.9,89.6 197.4,90 197.9,89.9 198.4,90.9 198.9,91.2 199.4,91.4 199.9,91.1 200.4,91.9 200.9,91.4 201.4,91.6 201.9,91.6 202.4,92 202.9,92.1 203.4,92.6 203.9,92.6 204.4,93.4 204.9,93.3 205.4,93.8 205.9,93.8 206.4,94 206.9,94.2 207.4,93.9 207.9,94.8 208.4,94.5 208.9,94.5 209.4,95.4 209.9,95.3 210.4,95.4 210.9,95.2 211.4,95.4 211.9,95.9 212.4,96.5 212.9,96.2 213.4,96.1 213.9,96.5 214.4,96.6 214.9,97.1 215.4,97.4 215.9,97.3 216.4,97.4 216.9,97.3 217.4,98.4 217.9,98.1 218.4,98.7 218.9,98.3 219.4,98.6 219.9,99.3 220.4,99.4 220.9,98.8 221.4,99.8 221.9,99.7 222.4,99.7 222.9,100.3 223.4,100.6 223.9,99.9 224.4,100.5 224.9,101.1 225.4,101 225.9,101 226.4,100.8 226.9,101.1 227.4,101.7 227.9,101.4 228.4,102.1 228.9,101.7 229.4,102.3 229.9,102.3 230.4,102.7 230.9,102.6 231.4,103.4 231.9,103.5 232.4,103.1 232.9,104 233.4,103.5 233.9,103.8 234.4,103.9 234.9,104.4 235.4,104.1 235.9,104.4 236.4,104.9 236.9,105.2 237.4,105 237.9,105.7 238.4,105.7 238.9,105.3 239.4,105.5 239.9,105.9 240.4,105.8 240.9,106.4 241.4,106 241.9,106.3 242.4,106.3 242.9,106.4 243.4,107.4 243.9,107.4 244.4,107.8 244.9,107.2 245.4,107.9 245.9,108 246.4,107.9 246.9,107.8 247.4,108.1 247.9,108.9 248.4,109.1 248.9,108.7 249.4,109.3 249.9,108.7 250.4,109.2 250.9,109.1 251.4,110 251.9,109.7 252.4,110.2 252.9,109.6 253.4,110.6 253.9,110.6 254.4,110.4 254.9,111.1 255.4,110.6 255.9,110.8 256.4,110.7 256.9,111.7 257.4,111.9 257.9,111.3 258.4,112.2 258.9,111.8 259.4,112 259.9,112.6 260.4,112.7 260.9,112.8 261.4,112.8 261.9,112.6 262.4,113.2 262.9,112.8 263.4,113 263.9,112.9 264.4,113.4 264.9,114.1 265.4,113.6 265.9,113.6 266.4,114.3 266.9,114 267.4,114.5 267.9,114.8 268.4,114.9 268.9,115.2 269.4,115 269.9,115.4 270.4,115 270.9,115.1 271.4,115.6 271.9,115.6 272.4,115.8 272.9,116.3 273.4,116.6 273.9,116.2 274.4,116.7 274.9,116 275.4,116.3 275.9,117.3 276.4,117.3 276.9,117.4 277.4,116.9 277.9,117.8 278.4,117.6 278.9,117.3 279.4,117.4 279.9,117.6 280.4,118.1 280.9,117.6 281.4,118.4 281.9,118.2 282.4,118.8 282.9,118.2 283.4,118.7 283.9,119 284.4,118.7 284.9,119.1 285.4,119.1 285.9,119.2 286.4,119.4 286.4,124.2 285.9,124.2 285.4,124.5 284.9,123.7 284.4,124 283.9,123.2 283.4,123.6 282.9,123 282.4,123.3 281.9,122.8 281.4,122.7 280.9,122.7 280.4,122.5 279.9,122.7 279.4,122.2 278.9,122.2 278.4,122.4 277.9,121.7 277.4,122.3 276.9,121.8 276.4,121.6 275.9,121.7 275.4,121.1 274.9,121.1 274.4,121.6 273.9,121.4 273.4,120.5 272.9,120.9 272.4,120.4 271.9,121 271.4,120.2 270.9,120.6 270.4,119.9 269.9,119.7 269.4,119.7 268.9,119.5 268.4,119.2 267.9,119.8 267.4,119.5 266.9,119.1 266.4,119 265.9,118.9 265.4,118.3 264.9,119.1 264.4,118.9 263.9,118.4 263.4,117.7 262.9,118.3 262.4,117.5 261.9,117.6 261.4,117.4 260.9,117.7 260.4,117.5 259.9,116.8 259.4,117 258.9,116.6 258.4,117.2 257.9,116.5 257.4,115.9 256.9,116.4 256.4,116.4 255.9,115.8 255.4,116 254.9,115.8 254.4,115.3 253.9,115.8 253.4,115 252.9,114.6 252.4,114.5 251.9,115.1 251.4,114.2 250.9,114.3 250.4,114.7 249.9,114.1 249.4,113.9 248.9,114.2 248.4,113.4 247.9,113.2 247.4,113.2 246.9,112.7 246.4,112.9 245.9,112.8 245.4,112.3 244.9,113 244.4,112.3 243.9,112.8 243.4,112.5 242.9,111.9 242.4,111.4 241.9,112.1 241.4,111.4 240.9,111.8 240.4,111.1 239.9,110.7 239.4,111.3 238.9,110.9 238.4,110.2 237.9,110.2 237.4,109.9 236.9,110.3 236.4,109.6 235.9,109.6 235.4,109.1 234.9,109.8 234.4,108.9 233.9,109.2 233.4,108.4 232.9,108.9 232.4,108.3 231.9,108.3 231.4,108.3 230.9,108 230.4,107.4 229.9,107.4 229.4,107.6 228.9,106.9 228.4,107.4 227.9,106.7 227.4,106.6 226.9,107.1 226.4,106.7 225.9,106.3 225.4,106.4 224.9,106.2 224.4,106 223.9,105.2 223.4,105.2 222.9,105.6 222.4,105.5 221.9,104.4 221.4,104.7 220.9,104.7 220.4,103.9 219.9,104.5 219.4,103.9 218.9,103.6 218.4,103.3 217.9,103.6 217.4,102.9 216.9,102.9 216.4,102.7 215.9,102.7 215.4,102.5 214.9,102.7 214.4,101.9 213.9,101.6 213.4,101.4 212.9,101.3 212.4,101.9 211.9,101 211.4,101.5 210.9,100.5 210.4,100.6 209.9,100.3 209.4,100.1 208.9,100.4 208.4,99.8 207.9,99.4 207.4,99.1 206.9,99.5 206.4,99.1 205.9,98.5 205.4,98.8 204.9,99 204.4,98.7 203.9,98.7 203.4,97.7 202.9,97.6 202.4,98.1 201.9,97.8 201.4,96.8 200.9,97 200.4,96.9 199.9,96.6 199.4,96.3 198.9,96.5 198.4,95.7 197.9,96.1 197.4,96 196.9,95.3 196.4,95.1 195.9,95.1 195.4,94.4 194.9,95.1 194.4,94.7 193.9,94.3 193.4,93.7 192.9,93.9 192.4,93.8 191.9,93.9 191.4,93 190.9,93.5 190.4,92.8 189.9,93 189.4,91.8 188.9,91.2 188.4,91.1 187.9,90.5"/>
<polygon class="gi" points="313.7,87.7 314.2,87.2 314.7,87.5 315.2,86.7 315.7,87.1 316.2,87.2 316.7,87.5 317.2,87.2 317.7,88.1 318.2,87.7 318.7,88.2 319.2,88.2 319.7,88.8 320.2,88.6 320.7,89.5 321.2,89.1 321.7,90 322.2,89.7 322.7,90.4 323.2,90.6 323.7,90.7 324.2,90.9 324.7,90.7 325.2,91.3 325.7,90.9 326.2,91.4 326.7,91.2 327.2,92 327.7,91.5 328.2,92.4 328.7,92.7 329.2,92.7 329.7,92.9 330.2,92.9 330.7,93.1 331.2,93.3 331.7,93.1 332.2,93.7 332.7,94.2 333.2,94.1 333.7,94.3 334.2,94.2 334.7,94.3 335.2,94.9 335.7,95.2 336.2,95.5 336.7,95.5 337.2,95.7 337.7,96.3 338.2,96.4 338.7,96.5 339.2,96.1 339.7,96.6 340.2,97.2 340.7,97.3 341.2,96.8 341.7,97.6 342.2,98 342.7,98.1 343.2,97.9 343.7,97.8 344.2,98.3 344.7,98 345.2,98.3 345.7,99 346.2,98.7 346.7,98.8 347.2,99.6 347.7,100 348.2,99.9 348.7,99.6 349.2,100.3 349.7,100.6 350.2,101 350.7,100.5 351.2,100.8 351.7,101.3 352.2,101.5 352.7,101.5 353.2,101.7 353.7,101.6 354.2,101.5 354.7,102.2 355.2,102.3 355.7,102.1 356.2,102.8 356.7,102.3 357.2,102.6 357.7,102.9 358.2,103.4 358.7,103.6 359.2,103.3 359.7,103.6 360.2,103.6 360.7,104.6 361.2,104.3 361.7,104 362.2,104.8 362.7,105 363.2,105.5 363.7,105 364.2,104.9 364.7,105.4 365.2,105.3 365.7,105.4 366.2,106.5 366.7,105.9 367.2,106.4 367.7,106.9 368.2,106.5 368.7,106.4 369.2,107.3 369.7,106.7 370.2,107.6 370.7,107.8 371.2,107.4 371.7,107.6 372.2,107.8 372.7,108.4 373.2,108.5 373.7,108.5 374.2,108.9 374.7,108.6 375.2,109.4 375.7,109.5 376.2,109 376.7,109.7 377.2,109.8 377.7,110.1 378.2,109.7 378.7,110.2 379.2,110.4 379.7,110.3 380.2,110.7 380.7,110.6 381.2,110.9 381.7,110.7 382.2,110.7 382.7,110.9 383.2,111.1 383.7,111.5 384.2,111.3 384.7,112.1 385.2,112.3 385.7,111.8 386.2,112.2 386.7,112.8 387.2,112.2 387.7,113.2 388.2,112.6 388.7,112.7 389.2,113.6 389.7,113.5 390.2,113.7 390.7,113.3 391.2,114.1 391.7,113.8 392.2,113.6 392.7,114 393.2,114.3 393.7,115 394.2,115 394.7,114.4 395.2,114.9 395.7,115 396.2,115.3 396.7,115.8 397.2,115.9 397.7,115.2 398.2,116.1 398.7,115.5 399.2,116.1 399.7,115.9 400.2,116.2 400.7,116.3 401.2,116.4 401.7,117 402.2,116.5 402.7,116.6 403.2,117.4 403.7,117.5 404.2,117.4 404.7,118 405.2,118.1 405.7,117.6 406.2,118.4 406.7,118 407.2,118 407.7,118.4 407.7,123.4 407.2,123 406.7,123.3 406.2,122.8 405.7,122.4 405.2,122 404.7,122 404.2,122.1 403.7,122 403.2,122.3 402.7,122.1 402.2,121.9 401.7,121.6 401.2,121.2 400.7,121.8 400.2,121.5 399.7,121 399.2,121.2 398.7,120.8 398.2,121.1 397.7,120.2 397.2,120.1 396.7,119.8 396.2,119.8 395.7,120.2 395.2,120.1 394.7,119.6 394.2,119.7 393.7,119.4 393.2,119.1 392.7,119.4 392.2,118.8 391.7,118.8 391.2,118.4 390.7,118.2 390.2,118.2 389.7,118.6 389.2,118.5 388.7,117.6 388.2,117.6 387.7,118.2 387.2,118 386.7,117.8 386.2,117.6 385.7,117.2 385.2,117.2 384.7,117 384.2,116.3 383.7,116.2 383.2,116.8 382.7,115.8 382.2,116.5 381.7,116.1 381.2,115.6 380.7,115.9 380.2,115.9 379.7,115.7 379.2,115.7 378.7,115.3 378.2,115.3 377.7,114.6 377.2,114.4 376.7,114.9 376.2,114.1 375.7,113.7 375.2,113.7 374.7,114 374.2,113.7 373.7,113.5 373.2,113.2 372.7,113.6 372.2,113.3 371.7,112.5 371.2,112.4 370.7,112.6 370.2,112.4 369.7,112.6 369.2,112.3 368.7,112.4 368.2,111.6 367.7,111.3 367.2,111.6 366.7,111.4 366.2,110.8 365.7,111.1 365.2,111.1 364.7,110.4 364.2,110.5 363.7,110.8 363.2,110.4 362.7,110 362.2,109.7 361.7,109.8 361.2,109.3 360.7,109.6 360.2,109.3 359.7,108.7 359.2,109.3 358.7,108.7 358.2,108.2 357.7,108.4 357.2,108 356.7,107.9 356.2,107.4 355.7,107.4 355.2,107.9 354.7,107.3 354.2,106.8 353.7,106.5 353.2,107 352.7,107.1 352.2,106.2 351.7,105.8 351.2,105.8 350.7,106.2 350.2,105.8 349.7,105.4 349.2,105.3 348.7,105.7 348.2,105.4 347.7,104.9 347.2,104.6 346.7,104.6 346.2,104.6 345.7,104.6 345.2,104.4 344.7,103.5 344.2,103.5 343.7,103.2 343.2,103.7 342.7,102.7 342.2,102.7 341.7,102.4 341.2,102.4 340.7,102.8 340.2,101.8 339.7,102.4 339.2,102.3 338.7,101.9 338.2,101.9 337.7,100.9 337.2,100.9 336.7,100.4 336.2,101 335.7,100.1 335.2,99.9 334.7,100.1 334.2,99.9 333.7,99.4 333.2,99.2 332.7,99.6 332.2,98.9 331.7,99.1 331.2,98.7 330.7,98.8 330.2,98.5 329.7,98 329.2,98.1 328.7,97.5 328.2,97.2 327.7,97.5 327.2,97.6 326.7,96.8 326.2,96.7 325.7,96.6 325.2,96.1 324.7,96.6 324.2,95.8 323.7,95.5 323.2,95.8 322.7,95.4 322.2,94.8 321.7,95.6 321.2,94.5 320.7,95.1 320.2,94.5 319.7,94.7 319.2,93.9 318.7,93.9 318.2,93.8 317.7,93.9 317.2,93.3 316.7,92.7 316.2,93.2 315.7,92.9 315.2,92.5 314.7,91.3 314.2,90.9 313.7,91.2"/>
<polygon class="gi" points="434.1,87.6 434.6,87.2 435.1,86.9 435.6,87.4 436.1,86.9 436.6,87.6 437.1,87.1 437.6,88.1 438.1,87.6 438.6,88.3 439.1,88 439.6,88.3 440.1,88.8 440.6,88.8 441.1,89.6 441.6,89 442.1,89.2 442.6,90.2 443.1,90.2 443.6,89.9 444.1,90 444.6,90.5 445.1,90.7 445.6,91.2 446.1,91.3 446.6,91 447.1,91.5 447.6,92.2 448.1,92.1 448.6,92.1 449.1,92.6 449.6,92.8 450.1,93.1 450.6,93.1 451.1,93 451.6,93 452.1,93.8 452.6,93.9 453.1,93.9 453.6,94.3 454.1,94.5 454.6,94.2 455.1,95 455.6,94.9 456.1,94.6 456.6,95 457.1,95.9 457.6,95.3 458.1,95.9 458.6,96.1 459.1,96.6 459.6,96.4 460.1,96.3 460.6,96.7 461.1,96.6 461.6,97.1 462.1,97.2 462.6,97.1 463.1,97.7 463.6,97.8 464.1,97.9 464.6,98.8 465.1,98.2 465.6,98.6 466.1,98.5 466.6,99.4 467.1,99.2 467.6,99.1 468.1,99.5 468.6,100.1 469.1,99.9 469.6,100.2 470.1,100.7 470.6,100.9 471.1,100.6 471.6,100.8 472.1,100.5 472.6,101 473.1,101.2 473.6,101.5 474.1,101.9 474.6,102.4 475.1,101.7 475.6,102.7 476.1,102.1 476.6,102.8 477.1,102.3 477.6,103.1 478.1,102.8 478.6,103.1 479.1,103.3 479.6,104.1 480.1,103.5 480.6,104.1 481.1,104.4 481.6,104.6 482.1,104.2 482.6,104.7 483.1,104.8 483.6,105.1 484.1,104.9 484.6,105.4 485.1,105.5 485.6,105.7 486.1,105.9 486.6,105.6 487.1,106.2 487.6,106.5 488.1,106.4 488.6,107.2 489.1,107 489.6,106.6 490.1,107.4 490.6,107.2 491.1,107.5 491.6,108.1 492.1,108.1 492.6,107.8 493.1,108 493.6,108.4 494.1,108.2 494.6,108.6 495.1,109.1 495.6,109.3 496.1,109.1 496.6,109.3 497.1,109.6 497.6,109.4 498.1,109.6 498.6,110 499.1,109.6 499.6,110.6 500.1,109.9 500.6,110 501.1,111.1 501.6,111 502.1,111.4 502.6,111.3 503.1,111.5 503.6,111.6 504.1,111.8 504.6,112 505.1,111.6 505.6,112.3 506.1,112.4 506.6,112.7 507.1,112.6 507.6,112.5 508.1,112.6 508.6,113.1 509.1,112.7 509.6,112.8 510.1,113.7 510.6,114 511.1,113.2 511.6,113.9 512.1,114.5 512.6,114 513.1,114.4 513.6,114.1 514.1,114.1 514.6,114.3 515.1,114.4 515.6,114.6 516.1,115.3 516.6,115.5 517.1,114.9 517.6,115.8 518.1,115.9 518.6,115.9 519.1,115.9 519.6,115.8 520.1,116.5 520.6,115.9 521.1,116.8 521.6,116.5 522.1,116.4 522.6,116.9 523.1,116.9 523.6,117.1 524.1,117 524.6,117.3 525.1,117.7 525.6,117.6 526.1,118.3 526.6,118.1 527.1,117.7 527.6,118.5 528.1,118.2 528.6,119 529.1,118.7 529.6,118.7 529.6,123.9 529.1,123.2 528.6,123.6 528.1,123.2 527.6,123.3 527.1,123.4 526.6,122.5 526.1,122.9 525.6,122.8 525.1,122.3 524.6,122.4 524.1,122.4 523.6,122.2 523.1,121.9 522.6,121.3 522.1,121.9 521.6,121.7 521.1,120.9 520.6,121.3 520.1,120.6 519.6,121.4 519.1,121.2 518.6,120.9 518.1,120.1 517.6,120.7 517.1,120.5 516.6,119.8 516.1,119.7 515.6,119.4 515.1,120.1 514.6,120 514.1,119.6 513.6,118.8 513.1,118.9 512.6,118.6 512.1,118.8 511.6,119.2 511.1,118.5 510.6,118.4 510.1,118.4 509.6,117.8 509.1,118.1 508.6,118.3 508.1,117.7 507.6,117.5 507.1,117.2 506.6,117.6 506.1,117 505.6,117.4 505.1,116.4 504.6,116.3 504.1,116.5 503.6,116.1 503.1,116.4 502.6,116.3 502.1,116.1 501.6,116.1 501.1,115.8 500.6,115.2 500.1,115.2 499.6,115.3 499.1,115.3 498.6,115.2 498.1,114.9 497.6,114.4 497.1,114.8 496.6,114.8 496.1,113.9 495.6,113.9 495.1,113.6 494.6,113.8 494.1,113.5 493.6,113.7 493.1,113.2 492.6,113.4 492.1,113 491.6,112.3 491.1,112.6 490.6,112.9 490.1,112.7 489.6,112.2 489.1,112.1 488.6,111.4 488.1,111.6 487.6,111.8 487.1,111.4 486.6,111.5 486.1,111.4 485.6,110.8 485.1,110.3 484.6,110.1 484.1,110 483.6,110 483.1,110.4 482.6,110.1 482.1,109.9 481.6,109.9 481.1,109.8 480.6,109.5 480.1,109.4 479.6,109.1 479.1,108.3 478.6,108.8 478.1,108 477.6,107.9 477.1,108.5 476.6,107.4 476.1,108 475.6,107.8 475.1,107.7 474.6,107.5 474.1,106.8 473.6,107 473.1,106.6 472.6,106.2 472.1,106.5 471.6,105.8 471.1,105.7 470.6,105.5 470.1,105.4 469.6,105 469.1,105 468.6,105.4 468.1,105 467.6,105.2 467.1,104.6 466.6,104.5 466.1,104.4 465.6,103.7 465.1,104.1 464.6,103.7 464.1,103.7 463.6,103 463.1,103.3 462.6,102.8 462.1,102.6 461.6,102.1 461.1,102.8 460.6,102.4 460.1,102.2 459.6,102.3 459.1,101.6 458.6,101.6 458.1,101.5 457.6,101.1 457.1,100.9 456.6,101 456.1,100.5 455.6,100.8 455.1,100 454.6,100.1 454.1,100.2 453.6,99.5 453.1,99.3 452.6,98.9 452.1,99.2 451.6,98.7 451.1,98.7 450.6,98.4 450.1,98.4 449.6,98.2 449.1,98.2 448.6,97.4 448.1,97.7 447.6,97.2 447.1,97.3 446.6,97 446.1,96.6 445.6,96.5 445.1,96.6 444.6,95.6 444.1,95.6 443.6,95.8 443.1,95.4 442.6,95.6 442.1,95 441.6,95.3 441.1,94.9 440.6,94.2 440.1,93.9 439.6,93.9 439.1,93.5 438.6,94 438.1,93.3 437.6,93 437.1,93 436.6,92.9 436.1,92.5 435.6,92.3 435.1,92 434.6,91 434.1,90.8"/>
<polygon class="gi" points="556,87.2 556.5,87.4 557,87.6 557.5,86.7 558,87.1 558.5,87.6 559,87 559.5,88 560,88 560.5,88.5 561,88.5 561.5,88.4 562,88.8 562.5,88.6 563,89.6 563.5,89.5 564,89.5 564.5,89.5 565,90.3 565.5,89.8 566,90.6 566.5,90.7 567,91.2 567.5,91 568,90.9 568.5,91.1 569,91.4 569.5,91.7 570,91.6 570.5,92.7 571,92 571.5,92.9 572,92.9 572.5,93 573,92.7 573.5,93.7 574,93.6 574.5,94 575,94.4 575.5,94.5 576,94.1 576.5,94.2 577,94.3 577.5,95 578,95.1 578.5,95.7 579,95.6 579.5,95.3 580,95.6 580.5,96.2 581,96.4 581.5,96.4 582,97.1 582.5,96.5 583,96.8 583.5,97.6 584,97.7 584.5,97.9 585,97.9 585.5,97.5 586,98.4 586.5,98.5 587,98.6 587.5,98.3 588,98.6 588.5,99 589,99 589.5,99.6 590,99.8 590.5,99.3 591,99.7 591.5,100.5 592,100 592.5,100.1 593,101 593.5,100.8 594,101.4 594.5,101.3 595,101.1 595.5,101.8 596,101.4 596.5,101.7 597,101.8 597.5,102.6 598,102.1 598.5,102.5 599,102.4 599.5,102.5 600,103.3 600.5,103.3 601,103.3 601.5,103.5 602,104.3 602.5,103.6 603,104.6 603.5,104.6 603.5,109.3 603,108.9 602.5,109 602,109.5 601.5,109.3 601,108.4 600.5,108.3 600,108.1 599.5,108.6 599,108.5 598.5,108.2 598,107.7 597.5,107.3 597,107.1 596.5,107.1 596,107.4 595.5,106.9 595,106.2 594.5,106.1 594,106.3 593.5,106 593,106.1 592.5,106.2 592,105.5 591.5,105.8 591,105.7 590.5,105.5 590,104.6 589.5,104.2 589,104.2 588.5,104 588,103.8 587.5,103.8 587,104.1 586.5,103.4 586,103.9 585.5,102.9 585,103.6 584.5,103.1 584,102.3 583.5,102.9 583,102.2 582.5,101.7 582,102.5 581.5,101.5 581,101.5 580.5,101.9 580,101.3 579.5,101.5 579,100.8 578.5,100.3 578,101 577.5,100.7 577,99.7 576.5,99.6 576,99.3 575.5,100 575,99.6 574.5,99.1 574,98.7 573.5,98.8 573,99.1 572.5,97.9 572,98.1 571.5,97.7 571,98 570.5,97.5 570,97 569.5,97.3 569,97.1 568.5,97.1 568,96.4 567.5,96.6 567,96.3 566.5,96.5 566,95.6 565.5,96 565,95.4 564.5,95.5 564,94.8 563.5,95.1 563,94.4 562.5,94.7 562,94.6 561.5,93.7 561,94.3 560.5,94 560,93.2 559.5,93.6 559,93.4 558.5,93.2 558,92.6 557.5,91.9 557,91.4 556.5,91.6 556,90.9"/>
<polygon class="gi" points="40.7,110.8 41.2,109.8 41.7,108.4 42.2,108.2 42.7,106.8 43.2,106.6 43.7,105.5 44.2,104.3 44.7,103.9 45.2,102.5 45.7,102.2 46.2,101 46.7,100.5 47.2,99.9 47.7,98.5 48.2,98.2 48.7,97.4 49.2,96.7 49.7,95.9 50.2,94.7 50.7,94.3 51.2,93.4 51.7,92 52.2,91.3 52.7,90.5 53.2,89.4 53.7,88.9 54.2,87.8 54.7,87.6 55.2,86.3 55.7,85.6 56.2,84.4 56.7,84.4 57.2,83.2 57.7,82.4 58.2,81.9 58.7,80.5 59.2,79.9 59.7,79.1 60.2,79.1 60.7,77.9 61.2,77.8 61.7,77.3 62.2,76.9 62.7,75.6 63.2,75.4 63.7,74.5 64.2,73.8 64.7,73.1 64.7,74.4 64.2,74.5 63.7,75.4 63.2,76.7 62.7,77.4 62.2,79 61.7,79.5 61.2,81 60.7,82.1 60.2,82.8 59.7,83.8 59.2,85.5 58.7,85.9 58.2,86.9 57.7,87.5 57.2,88.8 56.7,89.6 56.2,90.8 55.7,91.5 55.2,92.3 54.7,93.3 54.2,94 53.7,94.6 53.2,95.5 52.7,96.4 52.2,96.8 51.7,98.2 51.2,98.6 50.7,99.6 50.2,100 49.7,101.6 49.2,102 48.7,102.6 48.2,103.8 47.7,104.3 47.2,105.6 46.7,106.6 46.2,107 45.7,108.1 45.2,108.5 44.7,109.5 44.2,110.8 43.7,111.1 43.2,112 42.7,113 42.2,113.9 41.7,114.3 41.2,115.4 40.7,115.9"/>
<polygon class="gi" points="163.8,109.8 164.3,108.6 164.8,108.4 165.3,107.1 165.8,106.4 166.3,106 166.8,104.6 167.3,103.8 167.8,103.5 168.3,102.6 168.8,101.7 169.3,100.6 169.8,100.1 170.3,98.9 170.8,98 171.3,97 171.8,96.5 172.3,95.4 172.8,95.2 173.3,94.2 173.8,93.6 174.3,92 174.8,91.4 175.3,90.6 175.8,90.4 176.3,88.9 176.8,88.3 177.3,87.3 177.8,86.8 178.3,85.9 178.8,85 179.3,84.1 179.8,83 180.3,82.2 180.8,81.6 181.3,80.6 181.8,80.3 182.3,79.8 182.8,79.2 183.3,78.7 183.8,77.9 184.3,77.3 184.8,76.5 185.3,76.1 185.8,75.6 186.3,74.7 186.8,73.8 187.3,73.2 187.3,74 186.8,75.1 186.3,76.2 185.8,76.5 185.3,77.8 184.8,78.8 184.3,79.9 183.8,81.2 183.3,82.2 182.8,83 182.3,84.4 181.8,85.7 181.3,86.1 180.8,87.1 180.3,87.9 179.8,88.6 179.3,89.8 178.8,90.4 178.3,91.9 177.8,91.9 177.3,92.9 176.8,94.3 176.3,94.8 175.8,95.7 175.3,96.5 174.8,97.4 174.3,98.2 173.8,99.3 173.3,100.1 172.8,101 172.3,101.9 171.8,101.9 171.3,103.1 170.8,104.1 170.3,105 169.8,105.5 169.3,107 168.8,107 168.3,108.5 167.8,109.3 167.3,109.8 166.8,110.5 166.3,111.8 165.8,112.3 165.3,113.5 164.8,113.9 164.3,115.2 163.8,115.9"/>
<polygon class="gi" points="289.6,109.5 290.1,108.6 290.6,108.4 291.1,106.8 291.6,106.3 292.1,105.2 292.6,105.1 293.1,103.6 293.6,102.9 294.1,102.3 294.6,101.7 295.1,100.8 295.6,100 296.1,99.2 296.6,98.5 297.1,97.7 297.6,96.8 298.1,95.7 298.6,95 299.1,94.3 299.6,93.4 300.1,92.4 300.6,91.8 301.1,90.7 301.6,89.9 302.1,89.4 302.6,88.3 303.1,87.2 303.6,86.3 304.1,85.9 304.6,85.4 305.1,84.5 305.6,83.8 306.1,82.5 306.6,81.2 307.1,80.9 307.6,80.6 308.1,79.7 308.6,79.1 309.1,78.6 309.6,77.7 310.1,77.1 310.6,76.8 311.1,75.7 311.6,75.4 312.1,74.9 312.6,74.4 313.1,73.1 313.1,74.3 312.6,75 312.1,76.2 311.6,76.9 311.1,77.8 310.6,79 310.1,80.5 309.6,81.2 309.1,82.1 308.6,83.3 308.1,84.8 307.6,85.6 307.1,86.5 306.6,86.9 306.1,88.5 305.6,88.7 305.1,90.1 304.6,90.5 304.1,91.1 303.6,92.3 303.1,92.9 302.6,93.9 302.1,95.1 301.6,95.4 301.1,96.5 300.6,97.1 300.1,98.1 299.6,98.8 299.1,100.1 298.6,100.6 298.1,101.9 297.6,102.4 297.1,102.7 296.6,103.7 296.1,105.1 295.6,105.7 295.1,106.8 294.6,107.4 294.1,108.6 293.6,109.2 293.1,109.8 292.6,110.9 292.1,111.3 291.6,112.6 291.1,113.1 290.6,114 290.1,114.5 289.6,116"/>
<polygon class="gi" points="410.9,108.1 411.4,107.7 411.9,106.4 412.4,106 412.9,104.5 413.4,104.2 413.9,103.7 414.4,102.3 414.9,101.4 415.4,100.8 415.9,99.6 416.4,99.2 416.9,98.7 417.4,97 417.9,96.9 418.4,96 418.9,94.9 419.4,94.3 419.9,93.1 420.4,92.6 420.9,91.9 421.4,91.4 421.9,90 422.4,89 422.9,88.1 423.4,87.4 423.9,87.1 424.4,86.3 424.9,84.7 425.4,84.2 425.9,83.4 426.4,82.5 426.9,82.2 427.4,80.9 427.9,80.3 428.4,80.1 428.9,79.6 429.4,78.7 429.9,77.6 430.4,77.7 430.9,77.2 431.4,76 431.9,76 432.4,75.4 432.9,74.1 433.4,73.1 433.4,74.2 432.9,75.4 432.4,75.8 431.9,77.1 431.4,78.3 430.9,79.5 430.4,80.1 429.9,81.7 429.4,82.2 428.9,83.4 428.4,84.6 427.9,85.2 427.4,86.6 426.9,87.5 426.4,87.9 425.9,88.8 425.4,90.1 424.9,91 424.4,91.2 423.9,92.5 423.4,93.3 422.9,93.8 422.4,95.2 421.9,95.4 421.4,96.7 420.9,97.5 420.4,98.1 419.9,99.1 419.4,100.1 418.9,101.1 418.4,101.2 417.9,102.4 417.4,103.3 416.9,104.4 416.4,105 415.9,106 415.4,106.5 414.9,107.6 414.4,108.1 413.9,109.6 413.4,110.4 412.9,111.3 412.4,111.7 411.9,113 411.4,113.1 410.9,114.2"/>
<polygon class="gi" points="532.9,108 533.4,107 533.9,106.3 534.4,106 534.9,104.8 535.4,103.9 535.9,103 536.4,101.9 536.9,101.3 537.4,100.3 537.9,99.5 538.4,99.1 538.9,97.8 539.4,96.9 539.9,96.8 540.4,95.6 540.9,95.1 541.4,93.9 541.9,93.1 542.4,92.2 542.9,91.6 543.4,90.7 543.9,90.1 544.4,89.5 544.9,88.2 545.4,87.6 545.9,87 546.4,85.8 546.9,84.8 547.4,84.1 547.9,83.4 548.4,82.4 548.9,81.4 549.4,80.7 549.9,79.9 550.4,79.5 550.9,78.9 551.4,78.3 551.9,77.5 552.4,77.1 552.9,77.1 553.4,76.4 553.9,75.2 554.4,74.4 554.9,74.2 555.4,73.1 555.4,74.3 554.9,74.9 554.4,76 553.9,76.7 553.4,78.3 552.9,79.3 552.4,80 551.9,81.3 551.4,82 550.9,82.9 550.4,84.3 549.9,85.5 549.4,86.6 548.9,87.6 548.4,87.8 547.9,88.8 547.4,89.9 546.9,90.9 546.4,91.5 545.9,91.9 545.4,92.9 544.9,93.7 544.4,94.9 543.9,95.4 543.4,96.1 542.9,97 542.4,98.5 541.9,99.4 541.4,100 540.9,100.4 540.4,101.8 539.9,102 539.4,103 538.9,104.3 538.4,104.8 537.9,105.3 537.4,106.4 536.9,107.2 536.4,108.5 535.9,108.7 535.4,109.8 534.9,110.4 534.4,111.4 533.9,112.1 533.4,112.9 532.9,114.3"/>
</g>
<g class="b" filter="url(#soft)">
<path class="bs" d="M63.9 203.2C64.3 243.2 64.7 278.4 64.7 315.6M186.5 203.2C187 243.2 187.3 278.4 187.4 315.6M312.3 203.2C312.8 243.2 313.1 278.4 313.2 315.6M432.8 203.2C433.2 243.2 433.6 278.4 433.6 315.6M554.7 203.2C555.1 243.2 555.5 278.4 555.5 315.6"/>
<path class="br" d="M38 309.4L38.3 197.1M38.4 210.8v3.4M161.2 309.4L161.4 197.1M161.6 210.8v3.4M286.9 309.4L287.2 197.1M287.4 210.8v3.4M408.2 309.4L408.5 197.1M408.7 210.8v3.4M530.2 309.4L530.5 197.1M530.6 210.8v3.4"/>
<path class="bo" d="M7.5 303.2V312.1M8.5 304.9V312.9M9.5 304.4V313.8M10.5 305V312.6M11.5 304.8V313.1M12.5 303.2V311.8M13.5 304.7V313.3M14.5 303.1V311.8M15.5 304.4V312.7M16.5 304.1V313.8M17.5 304.9V311.8M18.5 304V312.9M19.5 303.7V313.4M20.5 304.6V313.5M21.5 304.5V313.1M22.5 304.3V313.3M23.5 303.3V311.8M24.5 304.9V311.8M25.5 304.1V313.5M26.5 304.9V312.5M27.5 303.9V311.9M28.5 304.9V313.7M29.5 303.9V313.8M30.5 304.4V313.2M31.5 304.3V311.8M32.5 303.9V311.8M33.5 304.3V312.5M34.5 304.9V313.2M35.5 303.6V311.8M36.5 304.9V311.8M37.5 303.3V313M38.5 199.2V209.9M39.5 199.6V209.2M40.5 199.7V208.9M41.5 199.1V207.5M42.5 198.7V206.8M43.5 200.1V206.7M44.5 199.8V206.6M45.5 199.8V206.7M46.5 199.8V206.9M47.5 200.1V206.7M48.5 200.1V207.8M49.5 199.8V208.3M50.5 200.2V207.8M51.5 200.3V208M52.5 199.7V206.7M53.5 199.8V206.7M54.5 200.3V206.7M55.5 199.8V207M56.5 200.2V207M57.5 200.2V206.5M58.5 200.2V206.7M59.5 200.2V206.5M60.5 200.1V208.1M61.5 200.2V206.7M62.5 199.8V208M63.5 199.8V207.2M65.5 303.4V313.5M66.5 304V312.9M67.5 303.4V311.9M68.5 304.8V312.1M69.5 303.5V312M70.5 304.3V313.7M71.5 303.5V311.8M72.5 303.9V311.8M73.5 303.9V313.5M74.5 304.4V311.8M75.5 304.3V312.5M76.5 304.6V313.6M77.5 303.1V313.3M78.5 304.8V311.8M79.5 303.9V311.8M80.5 305V313.3M81.5 304.9V313.5M82.5 303.7V313.1M83.5 304.9V311.8M84.5 304.9V312.3M85.5 304.3V311.8M86.5 304.6V312.8M87.5 304.9V311.8M88.5 303.9V313.8M89.5 304.9V311.8M90.5 303.8V313.4M91.5 304.9V312.4M92.5 304.3V313.6M93.5 304.9V311.9M94.5 304.9V312.9M95.5 303.1V313.5M96.5 304.9V312.5M97.5 304.4V311.8M98.5 303.4V312.9M99.5 303.1V313.1M100.5 303.1V313.4M101.5 304.5V313M102.5 304.5V311.8M103.5 303.3V312.2M104.5 303.6V312.6M105.5 304.2V313.4M106.5 304.6V313.4M107.5 304.9V311.9M108.5 304.7V312.7M109.5 304.9V312.5M110.5 304V311.8M111.5 303.7V313.7M112.5 304.6V312.3M113.5 304.3V311.8M114.5 304.9V312.8M115.5 304.9V313.1M116.5 304V312.8M117.5 304V312.9M118.5 303.9V312.5M119.5 304.9V312.1M120.5 304V311.8M121.5 304.1V311.8M122.5 304.9V313.2M123.5 304.9V313.3M124.5 304.6V312.1M125.5 304.3V311.8M126.5 304.9V311.8M127.5 303.4V313M128.5 303.3V311.8M129.5 304.9V313.7M130.5 303.6V311.9M131.5 304.2V311.9M132.5 304V312.2M133.5 304.4V311.9M134.5 304.9V312.7M135.5 303.9V311.8M136.5 305V313.3M137.5 305V313.2M138.5 305V312M139.5 304.6V313.7M140.5 303.8V312.4M141.5 304.9V312.2M142.5 304.6V311.8M143.5 304.9V311.9M144.5 304.7V313.5M145.5 303.4V313.1M146.5 304.5V311.8M147.5 304.9V312M148.5 304.7V311.8M149.5 303.9V313.1M150.5 304.8V313.1M151.5 304.1V313M152.5 304.6V312.7M153.5 303.6V311.8M154.5 303.9V313.5M155.5 303.3V312.7M156.5 303.9V313M157.5 304.9V313.2M158.5 304.9V312.2M159.5 304.9V312.5M160.5 304.9V312.2M161.5 198.4V210.5M162.5 199.8V208.7M163.5 199.7V208.1M164.5 199.8V207M165.5 199.8V206.8M166.5 199.5V206.7M167.5 199.8V206.7M168.5 198.9V208.1M169.5 199.8V206.7M170.5 199.8V207.2M171.5 199.8V207.2M172.5 199.8V206.9M173.5 199.4V206.5M174.5 200.1V206.7M175.5 199.8V206.7M176.5 199.8V206.5M177.5 199.8V207.3M178.5 199.4V206.7M179.5 199.8V208M180.5 199.8V208.2M181.5 199.8V206.7M182.5 199.8V207.5M183.5 200.2V206.9M184.5 199.4V206.7M185.5 199.8V206.5M186.5 200.2V206.7M187.5 302.2V312.5M188.5 302.7V313.8M189.5 302.8V313.8M190.5 304V312.7M191.5 303V313.5M192.5 303.7V311.9M193.5 304.7V313.6M194.5 304.9V312.6M195.5 303.5V311.8M196.5 304.9V311.8M197.5 303.3V312.1M198.5 304.9V311.9M199.5 304.1V312.2M200.5 304.9V312.5M201.5 304.9V312.8M202.5 304.9V313.5M203.5 304.9V312.2M204.5 303.6V312.3M205.5 304.9V313.3M206.5 304.2V313.5M207.5 304.8V311.8M208.5 304.8V312.4M209.5 303.8V312.5M210.5 304.9V312M211.5 303.4V313.2M212.5 303.6V311.8M213.5 303.5V312.8M214.5 304.6V313.5M215.5 303.9V313.6M216.5 304.9V311.8M217.5 304.2V311.8M218.5 304.9V312M219.5 303.5V313M220.5 304.5V311.9M221.5 304V313.3M222.5 304.4V312.4M223.5 303.7V313.1M224.5 304.9V312.5M225.5 304.1V312.1M226.5 303.2V311.8M227.5 303.5V312.2M228.5 305V313.6M229.5 305V313.7M230.5 304.9V312.4M231.5 304.9V312.4M232.5 303.7V311.8M233.5 304.1V311.8M234.5 305V313.2M235.5 304.9V312.4M236.5 303.6V312.9M237.5 303.7V313.4M238.5 304.4V311.8M239.5 304.9V312.5M240.5 304.2V311.9M241.5 304.9V312.4M242.5 303.9V312.3M243.5 304V313.4M244.5 304.1V313.4M245.5 304V311.8M246.5 303.4V312.6M247.5 303.3V311.8M248.5 304.6V313.4M249.5 304.9V311.9M250.5 303.3V312.1M251.5 304.7V313.2M252.5 303.9V313.8M253.5 304.9V311.9M254.5 304.9V313.5M255.5 304.6V312M256.5 304.9V312.3M257.5 304.9V313M258.5 304.2V311.8M259.5 304.7V312.4M260.5 303.9V312.2M261.5 304V313.4M262.5 303.2V311.8M263.5 304.9V313.2M264.5 303.9V313.2M265.5 304.9V312M266.5 303.2V313.6M267.5 304.9V313.7M268.5 304.7V313.3M269.5 304.4V311.8M270.5 304.3V312.2M271.5 305V313.7M272.5 303.7V311.8M273.5 303.5V313.2M274.5 304.9V312.5M275.5 304.9V312.5M276.5 304.6V311.8M277.5 304.9V312.3M278.5 303.9V313.6M279.5 304.8V311.8M280.5 304.2V312.6M281.5 304.9V313M282.5 304.9V312.2M283.5 303.7V311.8M284.5 303.7V312.7M285.5 303.7V312.1M287.5 198.3V210.5M288.5 199V208.5M289.5 200V208.2M290.5 200.1V208.6M291.5 200.2V206.8M292.5 199.8V207.9M293.5 200.1V207.6M294.5 200.1V207.9M295.5 200.1V207.6M296.5 199.8V206.8M297.5 200.2V207.2M298.5 200.2V206.6M299.5 199.8V207.3M300.5 200.2V206.8M301.5 200.1V206.7M302.5 199.8V206.7M303.5 199.6V206.7M304.5 200.1V208.1M305.5 199.8V207.5M306.5 199.8V207.3M307.5 199.2V207M308.5 199.8V206.7M309.5 199.8V206.7M310.5 199.9V206.7M311.5 199.8V206.8M312.5 200.2V207.8M313.5 302.6V312.4M314.5 303.6V313.5M315.5 302.9V313.5M316.5 304.6V313.2M317.5 304.3V312.8M318.5 303.3V313.3M319.5 304.2V312.1M320.5 303.7V311.8M321.5 303.6V313.2M322.5 303.2V312M323.5 304.1V311.8M324.5 304.9V313.3M325.5 304.9V313.5M326.5 303.6V312.5M327.5 303.5V312.5M328.5 304.6V313.7M329.5 303.3V313.6M330.5 304V312.6M331.5 304.9V311.9M332.5 304.6V312.5M333.5 303.5V313.7M334.5 304.9V312.2M335.5 303.2V311.8M336.5 304.9V313.6M337.5 304.4V311.8M338.5 303.8V312.3M339.5 304.4V312.5M340.5 304.2V311.8M341.5 303.2V312.7M342.5 304.5V313.3M343.5 304.3V312.2M344.5 303.8V311.9M345.5 304.4V312.2M346.5 304.2V313.2M347.5 304.9V311.8M348.5 303.4V311.8M349.5 303.3V312.9M350.5 304.5V312.9M351.5 304.9V313M352.5 303.7V312M353.5 304.7V313.8M354.5 303.6V311.8M355.5 304.2V312.7M356.5 304.9V311.8M357.5 303.7V312.9M358.5 304.9V312.8M359.5 304.9V312.2M360.5 303.6V313.5M361.5 304.4V311.9M362.5 303.5V311.8M363.5 303.8V313.1M364.5 304.9V312.3M365.5 304.8V312.1M366.5 303.7V311.9M367.5 304.9V312.9M368.5 304.9V311.8M369.5 303.2V313.7M370.5 304.3V311.9M371.5 305V313M372.5 303.7V313.5M373.5 303.1V311.8M374.5 303.2V311.8M375.5 304.6V312.9M376.5 304.1V312M377.5 304.6V311.8M378.5 303.3V312.2M379.5 303.5V313.4M380.5 304.9V313.5M381.5 303.5V312.3M382.5 303.7V313.5M383.5 303.7V313.3M384.5 304.1V313.7M385.5 303.2V312M386.5 305V311.8M387.5 304.9V312.1M388.5 304.8V311.8M389.5 305V311.8M390.5 304.9V313.4M391.5 304.9V311.8M392.5 303.3V313.5M393.5 304.7V311.8M394.5 304.9V311.8M395.5 304.9V312.3M396.5 304.7V313.2M397.5 304V311.8M398.5 304.9V312.3M399.5 304.6V311.8M400.5 303.1V313.1M401.5 304V311.8M402.5 303.3V312.4M403.5 303.2V313.1M404.5 304.9V312.3M405.5 304.3V312.6M406.5 304.9V313.7M407.5 304.9V312M408.5 199.1V210.9M409.5 199.5V208.2M410.5 200.1V208.8M411.5 199.8V207.7M412.5 199.8V207.3M413.5 200.2V206.7M414.5 199.1V206.7M415.5 200.1V206.7M416.5 199.8V208.4M417.5 200.1V207.6M418.5 200.1V206.7M419.5 199.8V208.4M420.5 199.8V206.9M421.5 199.3V206.7M422.5 199.8V206.5M423.5 199.8V207.9M424.5 200.2V206.8M425.5 199.8V207.4M426.5 200.2V206.7M427.5 199.8V207.5M428.5 199.8V206.7M429.5 199.8V206.7M430.5 200.2V207.7M431.5 199.7V206.8M432.5 199.9V207.1M434.5 303.2V312.8M435.5 302.8V312M436.5 304.6V311.9M437.5 304.1V311.9M438.5 303.2V311.8M439.5 303.5V313.4M440.5 304.9V312.8M441.5 304.9V312.3M442.5 305V311.8M443.5 304.6V312.1M444.5 304.6V313.2M445.5 304.3V312.4M446.5 304.9V312.2M447.5 304.7V312.3M448.5 304.9V312.3M449.5 304.9V312.9M450.5 303.7V313.8M451.5 304.8V312.4M452.5 303.5V311.8M453.5 303.2V311.8M454.5 304.1V311.8M455.5 303.9V313.4M456.5 304.9V311.8M457.5 304.9V312.5M458.5 303.9V313.1M459.5 303.5V312.8M460.5 304.8V313.6M461.5 304.4V312.8M462.5 304.9V311.8M463.5 304.6V312.9M464.5 303.1V313.3M465.5 303.1V312.4M466.5 304.9V312.6M467.5 305V312.7M468.5 304.9V312M469.5 304.9V312.7M470.5 303.3V313.5M471.5 304.4V312.6M472.5 303.4V312.3M473.5 304V313.6M474.5 304.9V311.8M475.5 304V312.3M476.5 304.9V313.3M477.5 305V311.8M478.5 304.9V313.2M479.5 304.4V312.2M480.5 304.7V313.2M481.5 303.9V312.8M482.5 303.4V311.8M483.5 303.3V313.2M484.5 304.5V312.7M485.5 304.9V312.3M486.5 304.2V312.1M487.5 304.9V312.3M488.5 304.5V313.8M489.5 304.6V312.6M490.5 304.5V312M491.5 303.4V312.4M492.5 303.4V313.3M493.5 305V313.4M494.5 304.9V313.2M495.5 304.9V311.8M496.5 304.9V312.8M497.5 304V313.4M498.5 304.9V312.5M499.5 303.5V313M500.5 304.1V311.8M501.5 303.9V312.2M502.5 304.2V312.1M503.5 303.7V313.8M504.5 304.1V313.2M505.5 304.9V311.9M506.5 304.8V311.8M507.5 304.6V313.1M508.5 304.7V311.8M509.5 303.1V313.2M510.5 304.4V312.1M511.5 304.9V311.8M512.5 304.1V313.5M513.5 303.2V313.7M514.5 304.9V312.4M515.5 304.9V313.6M516.5 303.4V312.3M517.5 304.2V312.2M518.5 304.9V312.5M519.5 303.3V311.8M520.5 304.7V313.1M521.5 304.2V312.7M522.5 304.9V313.6M523.5 304.4V311.8M524.5 304.7V313.2M525.5 303.3V313.3M526.5 303.8V312.5M527.5 304.9V313.7M528.5 304.9V312.2M529.5 303.4V313.5M530.5 199.1V209.6M531.5 199.5V209.1M532.5 199.7V207.4M533.5 200.2V207.5M534.5 199.8V207.5M535.5 199.8V206.7M536.5 199.1V206.7M537.5 200.3V207.7M538.5 200.1V208.2M539.5 199.8V206.7M540.5 199.8V206.9M541.5 199.8V207.7M542.5 200.1V206.7M543.5 200.2V208.1M544.5 199.8V208.2M545.5 199.8V207M546.5 199.7V206.7M547.5 200.1V207.3M548.5 200.1V207.9M549.5 199.8V206.7M550.5 199.8V207.7M551.5 200.2V208M552.5 199.8V207.4M553.5 198.8V206.7M554.5 199.8V206.7M556.5 304V313.1M557.5 303.1V312.3M558.5 304.4V313.4M559.5 304.8V313.2M560.5 303.4V313.6M561.5 304.3V312.2M562.5 304.9V311.8M563.5 304.2V311.8M564.5 303.2V311.8M565.5 304.3V312.3M566.5 304.9V313.5M567.5 304.2V312M568.5 303.2V312.3M569.5 304.9V313.1M570.5 303.9V312.4M571.5 303.4V312.5M572.5 304.5V313.8M573.5 304.8V312.4M574.5 303.2V312.9M575.5 303.7V312M576.5 303.5V312.3M577.5 303.3V312.7M578.5 303.6V311.9M579.5 305V313.8M580.5 304.9V313.4M581.5 304.6V311.8M582.5 304.3V312.4M583.5 303.3V313.7M584.5 304.3V312.1M585.5 304.5V313.2M586.5 304.5V313.3M587.5 304.7V312.4M588.5 303.7V313.6M589.5 304V313.3M590.5 303.1V312.3M591.5 304.3V313.2M592.5 303.1V312.1M593.5 304V313.3M594.5 303.7V313.2M595.5 304.6V312.2M596.5 303.5V313.5M597.5 304.9V313.6M598.5 303.5V313.6M599.5 303.8V313M600.5 303.5V311.8M601.5 303.2V312.9M602.5 304.8V311.8M603.5 304.9V312.8"/>
<polygon class="bi" points="7,306 7.5,306.1 8,306 8.5,306.2 9,305.8 9.5,305.7 10,305.9 10.5,305.8 11,306.3 11.5,306.2 12,305.8 12.5,305.9 13,305.9 13.5,306.3 14,305.7 14.5,306.1 15,306.3 15.5,306.2 16,305.8 16.5,305.9 17,305.9 17.5,305.8 18,305.9 18.5,306.3 19,305.8 19.5,306.2 20,306.2 20.5,306.2 21,306.1 21.5,306.2 22,306 22.5,306.2 23,306.2 23.5,306.3 24,306.3 24.5,306.1 25,305.7 25.5,306 26,305.9 26.5,306.2 27,305.8 27.5,305.8 28,305.9 28.5,306.2 29,305.7 29.5,306.2 30,306 30.5,306.2 31,305.9 31.5,306.3 32,306.3 32.5,305.9 33,306.1 33.5,306.1 34,306 34.5,305.9 35,306.1 35.5,305.9 36,306.3 36.5,305.7 37,305.7 37.5,306 37.5,311 37,310.9 36.5,311.1 36,310.9 35.5,310.7 35,310.6 34.5,311.1 34,310.8 33.5,311 33,310.5 32.5,311.1 32,311 31.5,310.8 31,310.9 30.5,311.1 30,310.7 29.5,310.6 29,310.5 28.5,310.6 28,310.5 27.5,310.5 27,310.7 26.5,311.1 26,311 25.5,310.8 25,311.1 24.5,310.9 24,311 23.5,310.5 23,311 22.5,310.7 22,310.7 21.5,310.5 21,310.7 20.5,310.6 20,311 19.5,311.1 19,311.1 18.5,311 18,310.9 17.5,311.1 17,310.5 16.5,310.7 16,310.7 15.5,311 15,310.7 14.5,311.1 14,311 13.5,310.9 13,311 12.5,310.6 12,311 11.5,310.7 11,310.6 10.5,310.8 10,310.6 9.5,311 9,311.1 8.5,310.5 8,311 7.5,310.7 7,311.1"/>
<polygon class="bi" points="64.7,306 65.2,306 65.7,306.2 66.2,305.8 66.7,306.2 67.2,306.3 67.7,306 68.2,306.1 68.7,305.8 69.2,305.9 69.7,305.8 70.2,306 70.7,305.8 71.2,306.3 71.7,306.2 72.2,306.3 72.7,306.2 73.2,305.9 73.7,305.8 74.2,306 74.7,306.3 75.2,306 75.7,306 76.2,306.1 76.7,305.9 77.2,305.8 77.7,305.9 78.2,306 78.7,305.7 79.2,306.2 79.7,305.8 80.2,306 80.7,306.1 81.2,305.8 81.7,306.2 82.2,306.1 82.7,305.8 83.2,306.3 83.7,306.3 84.2,305.7 84.7,306.2 85.2,305.7 85.7,306.1 86.2,305.9 86.7,305.8 87.2,305.8 87.7,306.1 88.2,305.8 88.7,305.7 89.2,305.9 89.7,305.8 90.2,306 90.7,306 91.2,306 91.7,306.1 92.2,305.8 92.7,306.1 93.2,305.9 93.7,305.9 94.2,306.1 94.7,305.8 95.2,306.1 95.7,306.2 96.2,305.9 96.7,306.3 97.2,306 97.7,306 98.2,306.2 98.7,305.8 99.2,306.2 99.7,306.1 100.2,305.9 100.7,306 101.2,305.8 101.7,306.3 102.2,305.7 102.7,306 103.2,305.9 103.7,305.9 104.2,306.3 104.7,306 105.2,305.9 105.7,306.2 106.2,305.9 106.7,305.9 107.2,306 107.7,305.9 108.2,305.8 108.7,305.7 109.2,305.7 109.7,305.8 110.2,305.7 110.7,306.2 111.2,306.3 111.7,306 112.2,305.7 112.7,306 113.2,306.2 113.7,305.9 114.2,306.3 114.7,306.1 115.2,305.7 115.7,305.7 116.2,306.1 116.7,305.7 117.2,305.8 117.7,306.1 118.2,305.9 118.7,306 119.2,305.8 119.7,306.3 120.2,306.1 120.7,305.8 121.2,305.9 121.7,305.7 122.2,306.1 122.7,306 123.2,306.1 123.7,306.3 124.2,305.9 124.7,306.3 125.2,306.3 125.7,305.7 126.2,305.9 126.7,305.7 127.2,306.2 127.7,305.7 128.2,305.9 128.7,306 129.2,305.9 129.7,306.3 130.2,306.1 130.7,305.9 131.2,306.3 131.7,306.2 132.2,306.3 132.7,305.9 133.2,305.8 133.7,305.8 134.2,306 134.7,306.3 135.2,306.3 135.7,305.8 136.2,306.1 136.7,306.1 137.2,306.3 137.7,306.2 138.2,305.8 138.7,306.3 139.2,306.2 139.7,306.2 140.2,305.7 140.7,306.2 141.2,306.1 141.7,305.9 142.2,306.3 142.7,305.9 143.2,306.2 143.7,306 144.2,305.9 144.7,306 145.2,306.2 145.7,306.1 146.2,306.3 146.7,306.2 147.2,306.1 147.7,305.8 148.2,305.7 148.7,305.7 149.2,306.3 149.7,306 150.2,306.2 150.7,305.9 151.2,305.8 151.7,306.2 152.2,305.8 152.7,305.9 153.2,306.3 153.7,306.2 154.2,306.3 154.7,306.3 155.2,306.3 155.7,306.1 156.2,306.2 156.7,305.7 157.2,306.2 157.7,306.2 158.2,306 158.7,306.3 159.2,305.8 159.7,306 160.2,305.8 160.7,306 160.7,310.8 160.2,310.5 159.7,310.7 159.2,310.9 158.7,311.1 158.2,311 157.7,310.6 157.2,310.9 156.7,311.1 156.2,310.8 155.7,310.8 155.2,311 154.7,310.9 154.2,310.6 153.7,310.6 153.2,310.8 152.7,310.6 152.2,310.8 151.7,310.5 151.2,310.5 150.7,311.1 150.2,311 149.7,310.8 149.2,310.5 148.7,311 148.2,310.8 147.7,311 147.2,310.7 146.7,310.5 146.2,310.8 145.7,310.5 145.2,310.6 144.7,310.5 144.2,311.1 143.7,311.1 143.2,311 142.7,310.9 142.2,311.1 141.7,311.1 141.2,310.6 140.7,310.6 140.2,310.8 139.7,310.9 139.2,310.6 138.7,310.8 138.2,310.5 137.7,310.5 137.2,310.5 136.7,310.7 136.2,311.1 135.7,311 135.2,311 134.7,310.5 134.2,310.6 133.7,311.1 133.2,310.9 132.7,311 132.2,310.9 131.7,311 131.2,311 130.7,310.6 130.2,310.7 129.7,311.1 129.2,311.1 128.7,311 128.2,310.9 127.7,311 127.2,310.8 126.7,311 126.2,310.9 125.7,310.6 125.2,310.8 124.7,311.1 124.2,310.7 123.7,310.9 123.2,310.8 122.7,311 122.2,310.5 121.7,310.8 121.2,311 120.7,310.6 120.2,310.6 119.7,311.1 119.2,310.6 118.7,310.7 118.2,311.1 117.7,311.1 117.2,310.9 116.7,310.6 116.2,310.9 115.7,310.5 115.2,310.5 114.7,311.1 114.2,311 113.7,310.5 113.2,311.1 112.7,310.6 112.2,311.1 111.7,311.1 111.2,311.1 110.7,311 110.2,310.6 109.7,310.6 109.2,311 108.7,310.6 108.2,310.9 107.7,311 107.2,310.6 106.7,311.1 106.2,310.7 105.7,310.6 105.2,310.9 104.7,310.7 104.2,310.9 103.7,310.8 103.2,311.1 102.7,310.8 102.2,310.7 101.7,311 101.2,310.5 100.7,310.7 100.2,311.1 99.7,310.9 99.2,311 98.7,310.7 98.2,311.1 97.7,310.9 97.2,310.7 96.7,310.7 96.2,310.9 95.7,311 95.2,310.5 94.7,311.1 94.2,310.7 93.7,310.7 93.2,310.7 92.7,311.1 92.2,310.5 91.7,310.6 91.2,310.6 90.7,311.1 90.2,311.1 89.7,310.8 89.2,310.8 88.7,310.6 88.2,310.6 87.7,310.7 87.2,310.7 86.7,310.6 86.2,311 85.7,311.1 85.2,310.8 84.7,310.9 84.2,310.5 83.7,310.8 83.2,310.5 82.7,311 82.2,310.9 81.7,311 81.2,310.9 80.7,311.1 80.2,310.6 79.7,310.6 79.2,311 78.7,310.7 78.2,310.5 77.7,310.8 77.2,310.6 76.7,310.9 76.2,311 75.7,310.6 75.2,311.1 74.7,311.1 74.2,311.1 73.7,310.5 73.2,311.1 72.7,311.1 72.2,310.8 71.7,310.6 71.2,310.8 70.7,311.1 70.2,310.9 69.7,310.8 69.2,311 68.7,310.7 68.2,311.1 67.7,310.7 67.2,311.1 66.7,310.6 66.2,311 65.7,310.7 65.2,311 64.7,310.5"/>
<polygon class="bi" points="187.4,305.8 187.9,306 188.4,306.1 188.9,306.3 189.4,306.3 189.9,305.7 190.4,306.3 190.9,306 191.4,305.7 191.9,305.7 192.4,306.1 192.9,306.3 193.4,305.9 193.9,306.1 194.4,306.3 194.9,305.9 195.4,305.9 195.9,305.8 196.4,305.7 196.9,306 197.4,306 197.9,306.2 198.4,306.1 198.9,306.3 199.4,306.1 199.9,305.7 200.4,306.3 200.9,306 201.4,305.9 201.9,306.1 202.4,305.7 202.9,305.8 203.4,305.7 203.9,305.8 204.4,306 204.9,306.3 205.4,306.1 205.9,306.2 206.4,305.7 206.9,305.8 207.4,305.9 207.9,306.3 208.4,306.3 208.9,306.1 209.4,306.2 209.9,305.9 210.4,305.8 210.9,305.8 211.4,306.1 211.9,305.8 212.4,306.1 212.9,305.9 213.4,305.7 213.9,305.9 214.4,306.2 214.9,306.2 215.4,305.7 215.9,305.9 216.4,306.2 216.9,306.1 217.4,306 217.9,306.3 218.4,305.8 218.9,305.7 219.4,305.7 219.9,305.9 220.4,306 220.9,305.8 221.4,305.9 221.9,306.3 222.4,306 222.9,305.7 223.4,306.2 223.9,305.8 224.4,305.7 224.9,305.9 225.4,306.2 225.9,306 226.4,306.1 226.9,306.1 227.4,306.3 227.9,305.8 228.4,305.8 228.9,306.1 229.4,305.9 229.9,306.1 230.4,305.9 230.9,306 231.4,305.7 231.9,306.3 232.4,305.7 232.9,306 233.4,306.1 233.9,306.2 234.4,306.3 234.9,306 235.4,306 235.9,306.1 236.4,306.1 236.9,305.7 237.4,306.2 237.9,305.9 238.4,306.1 238.9,305.9 239.4,305.9 239.9,305.8 240.4,306 240.9,305.7 241.4,306.3 241.9,305.8 242.4,306.2 242.9,305.9 243.4,305.7 243.9,305.9 244.4,306.3 244.9,306.3 245.4,306.3 245.9,306.3 246.4,306.3 246.9,305.8 247.4,306 247.9,305.9 248.4,306.1 248.9,305.8 249.4,306 249.9,306.1 250.4,306 250.9,306.2 251.4,306.2 251.9,305.8 252.4,306 252.9,305.9 253.4,306.1 253.9,306 254.4,305.8 254.9,305.9 255.4,305.9 255.9,306.2 256.4,305.8 256.9,306.1 257.4,306.1 257.9,305.8 258.4,305.9 258.9,306.3 259.4,306.1 259.9,306.2 260.4,305.9 260.9,306.2 261.4,306 261.9,305.8 262.4,306.1 262.9,306.2 263.4,306 263.9,305.9 264.4,305.8 264.9,305.8 265.4,306.2 265.9,306.2 266.4,305.9 266.9,306.2 267.4,305.7 267.9,306 268.4,306.1 268.9,305.7 269.4,305.9 269.9,305.9 270.4,305.9 270.9,306.1 271.4,305.7 271.9,306.1 272.4,305.8 272.9,306.3 273.4,306.1 273.9,305.9 274.4,305.9 274.9,306.1 275.4,305.7 275.9,305.9 276.4,305.9 276.9,305.7 277.4,305.8 277.9,305.8 278.4,305.9 278.9,306.2 279.4,305.8 279.9,306 280.4,305.7 280.9,305.8 281.4,306.2 281.9,306 282.4,306.2 282.9,305.8 283.4,306 283.9,305.7 284.4,305.8 284.9,305.7 285.4,305.9 285.9,306 286.4,306.1 286.4,310.8 285.9,310.7 285.4,310.8 284.9,310.5 284.4,310.5 283.9,310.8 283.4,311.1 282.9,311 282.4,310.5 281.9,310.7 281.4,311 280.9,310.9 280.4,310.7 279.9,311.1 279.4,311 278.9,311 278.4,310.5 277.9,310.9 277.4,311 276.9,311.1 276.4,311.1 275.9,310.7 275.4,310.6 274.9,310.8 274.4,310.9 273.9,310.5 273.4,310.9 272.9,310.6 272.4,311 271.9,310.7 271.4,310.9 270.9,310.6 270.4,310.9 269.9,311 269.4,310.5 268.9,310.7 268.4,310.6 267.9,310.7 267.4,311.1 266.9,310.7 266.4,310.6 265.9,311.1 265.4,310.7 264.9,311.1 264.4,310.6 263.9,311.1 263.4,310.7 262.9,311.1 262.4,311.1 261.9,310.8 261.4,310.7 260.9,311 260.4,310.5 259.9,310.6 259.4,311.1 258.9,310.8 258.4,310.5 257.9,310.5 257.4,310.9 256.9,310.9 256.4,311 255.9,310.6 255.4,311 254.9,310.7 254.4,310.8 253.9,311 253.4,311 252.9,310.7 252.4,310.7 251.9,311.1 251.4,310.8 250.9,310.9 250.4,310.6 249.9,310.6 249.4,310.7 248.9,310.8 248.4,310.6 247.9,310.8 247.4,310.7 246.9,310.8 246.4,310.8 245.9,310.9 245.4,310.9 244.9,311 244.4,310.7 243.9,311.1 243.4,310.5 242.9,310.9 242.4,310.5 241.9,311.1 241.4,310.9 240.9,311 240.4,310.5 239.9,311.1 239.4,310.9 238.9,310.9 238.4,311 237.9,310.5 237.4,310.5 236.9,311 236.4,311.1 235.9,310.9 235.4,310.5 234.9,310.5 234.4,311 233.9,310.7 233.4,310.8 232.9,310.6 232.4,310.8 231.9,311.1 231.4,310.8 230.9,310.6 230.4,310.9 229.9,310.6 229.4,310.6 228.9,311.1 228.4,310.5 227.9,310.7 227.4,310.5 226.9,310.5 226.4,310.8 225.9,310.6 225.4,311 224.9,310.5 224.4,310.8 223.9,310.9 223.4,310.9 222.9,310.5 222.4,310.6 221.9,310.9 221.4,310.7 220.9,310.6 220.4,311.1 219.9,310.7 219.4,310.9 218.9,310.7 218.4,310.5 217.9,310.9 217.4,310.8 216.9,311 216.4,310.6 215.9,310.7 215.4,310.8 214.9,310.6 214.4,310.6 213.9,310.6 213.4,310.5 212.9,310.8 212.4,310.8 211.9,310.8 211.4,311 210.9,310.6 210.4,310.5 209.9,311.1 209.4,310.8 208.9,310.6 208.4,310.9 207.9,311.1 207.4,310.9 206.9,310.6 206.4,311 205.9,311.1 205.4,310.5 204.9,310.7 204.4,310.7 203.9,311.1 203.4,311.1 202.9,311 202.4,310.6 201.9,311 201.4,311.1 200.9,310.5 200.4,310.7 199.9,310.7 199.4,310.5 198.9,310.9 198.4,311.1 197.9,310.9 197.4,310.5 196.9,310.6 196.4,310.5 195.9,311.1 195.4,311.1 194.9,310.9 194.4,310.9 193.9,310.8 193.4,311.1 192.9,310.9 192.4,310.8 191.9,310.6 191.4,310.6 190.9,310.7 190.4,310.7 189.9,310.9 189.4,311.1 188.9,310.7 188.4,310.6 187.9,311 187.4,310.7"/>
<polygon class="bi" points="313.2,306.3 313.7,306 314.2,305.9 314.7,305.8 315.2,305.9 315.7,306.1 316.2,305.8 316.7,306.3 317.2,305.7 317.7,306 318.2,305.9 318.7,305.9 319.2,306.3 319.7,305.9 320.2,306.1 320.7,306 321.2,305.8 321.7,306 322.2,305.9 322.7,305.7 323.2,306.3 323.7,306.1 324.2,306 324.7,305.8 325.2,306.1 325.7,306.1 326.2,306.1 326.7,306 327.2,306 327.7,306 328.2,305.7 328.7,306.1 329.2,306.1 329.7,306.1 330.2,306 330.7,306 331.2,305.9 331.7,306.3 332.2,306.1 332.7,306.1 333.2,306.3 333.7,306.2 334.2,306.2 334.7,306.2 335.2,305.7 335.7,306 336.2,306.1 336.7,306.3 337.2,306.3 337.7,305.7 338.2,305.7 338.7,306.1 339.2,305.8 339.7,305.8 340.2,306.3 340.7,306.3 341.2,306.2 341.7,306.3 342.2,306.2 342.7,305.7 343.2,306 343.7,306.3 344.2,306.1 344.7,306.2 345.2,305.8 345.7,305.8 346.2,306.2 346.7,306.1 347.2,305.8 347.7,306.3 348.2,306 348.7,305.7 349.2,306.2 349.7,305.9 350.2,305.9 350.7,306.1 351.2,306 351.7,306.3 352.2,306 352.7,305.8 353.2,305.9 353.7,305.7 354.2,306.1 354.7,305.9 355.2,305.8 355.7,305.7 356.2,305.8 356.7,306 357.2,306.1 357.7,306.2 358.2,306.3 358.7,306.1 359.2,306 359.7,306.3 360.2,305.7 360.7,306 361.2,305.8 361.7,305.9 362.2,305.8 362.7,305.8 363.2,306 363.7,306 364.2,305.7 364.7,305.8 365.2,306.2 365.7,306 366.2,306.2 366.7,306.2 367.2,306.1 367.7,305.9 368.2,305.7 368.7,306.1 369.2,306 369.7,305.7 370.2,306.3 370.7,305.8 371.2,305.8 371.7,306 372.2,305.9 372.7,305.9 373.2,306.2 373.7,305.8 374.2,305.9 374.7,306.1 375.2,306.3 375.7,305.7 376.2,305.9 376.7,305.9 377.2,305.7 377.7,306 378.2,306 378.7,306.2 379.2,305.8 379.7,306.3 380.2,306.1 380.7,306 381.2,305.8 381.7,306.3 382.2,305.9 382.7,306.3 383.2,306.1 383.7,306.2 384.2,305.7 384.7,306.1 385.2,305.8 385.7,306.1 386.2,305.7 386.7,305.9 387.2,305.9 387.7,306.1 388.2,306.2 388.7,306 389.2,305.7 389.7,305.7 390.2,305.7 390.7,305.9 391.2,305.9 391.7,305.9 392.2,306 392.7,306.3 393.2,306 393.7,306.3 394.2,306.1 394.7,305.9 395.2,305.8 395.7,305.7 396.2,306.3 396.7,306 397.2,305.8 397.7,306 398.2,306.3 398.7,305.8 399.2,305.9 399.7,306 400.2,305.9 400.7,306.1 401.2,306.3 401.7,305.9 402.2,305.7 402.7,305.7 403.2,305.7 403.7,305.8 404.2,305.7 404.7,306 405.2,306.2 405.7,305.8 406.2,306.2 406.7,306.2 407.2,306.3 407.7,306.1 407.7,311.1 407.2,310.7 406.7,310.5 406.2,310.5 405.7,310.6 405.2,310.7 404.7,310.5 404.2,310.6 403.7,310.5 403.2,310.6 402.7,310.8 402.2,310.7 401.7,311 401.2,310.5 400.7,310.5 400.2,310.9 399.7,311.1 399.2,310.5 398.7,310.8 398.2,311.1 397.7,310.7 397.2,310.6 396.7,311 396.2,310.6 395.7,310.8 395.2,310.5 394.7,311 394.2,311 393.7,310.7 393.2,310.6 392.7,310.7 392.2,310.7 391.7,310.5 391.2,310.8 390.7,310.6 390.2,311 389.7,311.1 389.2,311 388.7,311 388.2,310.7 387.7,310.7 387.2,310.5 386.7,310.9 386.2,310.8 385.7,310.9 385.2,310.9 384.7,311 384.2,310.7 383.7,310.8 383.2,310.9 382.7,310.5 382.2,311.1 381.7,310.5 381.2,310.8 380.7,310.9 380.2,310.8 379.7,310.7 379.2,310.7 378.7,310.8 378.2,311 377.7,310.8 377.2,311.1 376.7,310.7 376.2,311.1 375.7,311 375.2,310.6 374.7,311 374.2,310.5 373.7,310.5 373.2,310.5 372.7,311 372.2,310.8 371.7,310.6 371.2,310.5 370.7,310.5 370.2,310.5 369.7,311 369.2,311 368.7,310.6 368.2,310.9 367.7,310.8 367.2,310.9 366.7,310.6 366.2,310.7 365.7,310.6 365.2,310.8 364.7,310.5 364.2,311.1 363.7,311 363.2,310.8 362.7,310.8 362.2,310.9 361.7,310.6 361.2,311.1 360.7,310.6 360.2,310.7 359.7,310.6 359.2,310.9 358.7,311 358.2,311 357.7,310.7 357.2,310.5 356.7,310.9 356.2,311 355.7,311 355.2,310.8 354.7,310.9 354.2,310.8 353.7,310.6 353.2,311 352.7,311 352.2,311 351.7,310.8 351.2,310.6 350.7,310.7 350.2,311 349.7,310.6 349.2,311.1 348.7,311 348.2,310.8 347.7,310.7 347.2,310.6 346.7,310.7 346.2,310.6 345.7,311 345.2,311.1 344.7,310.8 344.2,310.8 343.7,310.6 343.2,310.9 342.7,311.1 342.2,310.6 341.7,311 341.2,310.6 340.7,310.8 340.2,311.1 339.7,311.1 339.2,310.7 338.7,310.5 338.2,310.5 337.7,310.7 337.2,310.7 336.7,310.6 336.2,310.8 335.7,311 335.2,311.1 334.7,310.8 334.2,310.6 333.7,310.6 333.2,311.1 332.7,310.5 332.2,310.5 331.7,311 331.2,310.8 330.7,311 330.2,311 329.7,310.6 329.2,311 328.7,310.8 328.2,310.7 327.7,310.9 327.2,310.5 326.7,310.7 326.2,310.6 325.7,310.5 325.2,310.6 324.7,310.9 324.2,310.6 323.7,310.8 323.2,310.9 322.7,310.6 322.2,311 321.7,311 321.2,311 320.7,310.7 320.2,310.9 319.7,310.6 319.2,310.7 318.7,310.7 318.2,311 317.7,310.7 317.2,310.9 316.7,310.7 316.2,310.5 315.7,310.8 315.2,310.7 314.7,311.1 314.2,311.1 313.7,310.8 313.2,310.6"/>
<polygon class="bi" points="433.6,305.7 434.1,306.1 434.6,306.2 435.1,306 435.6,306 436.1,306.1 436.6,305.8 437.1,305.7 437.6,306 438.1,305.7 438.6,306 439.1,305.9 439.6,306.3 440.1,306.3 440.6,306.3 441.1,305.8 441.6,306.1 442.1,306.3 442.6,306.2 443.1,305.7 443.6,305.8 444.1,306.1 444.6,306 445.1,305.7 445.6,305.7 446.1,306.1 446.6,305.7 447.1,306.3 447.6,305.9 448.1,306.1 448.6,306.1 449.1,306 449.6,305.8 450.1,306.3 450.6,306.3 451.1,306.2 451.6,306.2 452.1,306.3 452.6,306.3 453.1,306.2 453.6,305.9 454.1,306.2 454.6,306.2 455.1,305.8 455.6,306 456.1,305.9 456.6,305.8 457.1,305.8 457.6,305.9 458.1,305.9 458.6,305.9 459.1,306 459.6,305.7 460.1,305.9 460.6,306.3 461.1,305.8 461.6,305.7 462.1,306.1 462.6,305.8 463.1,306.3 463.6,306.3 464.1,305.7 464.6,305.7 465.1,306.2 465.6,306 466.1,305.8 466.6,305.8 467.1,305.8 467.6,306.1 468.1,306.1 468.6,306.3 469.1,306 469.6,306.3 470.1,305.7 470.6,306.1 471.1,306.1 471.6,306.3 472.1,306 472.6,306.2 473.1,305.7 473.6,306.2 474.1,306.1 474.6,305.7 475.1,306 475.6,306.3 476.1,306 476.6,306.1 477.1,306.3 477.6,305.7 478.1,305.7 478.6,305.9 479.1,305.9 479.6,306.2 480.1,305.8 480.6,306 481.1,306.1 481.6,305.9 482.1,306.3 482.6,305.9 483.1,305.7 483.6,305.9 484.1,306.1 484.6,306.2 485.1,306.1 485.6,305.9 486.1,306.1 486.6,306 487.1,306 487.6,305.7 488.1,306.2 488.6,305.7 489.1,306.3 489.6,306.2 490.1,306.3 490.6,305.8 491.1,306.2 491.6,305.8 492.1,305.9 492.6,306.2 493.1,305.9 493.6,306.3 494.1,306.3 494.6,306.3 495.1,306 495.6,306.2 496.1,306.1 496.6,306.1 497.1,306.1 497.6,305.7 498.1,306.3 498.6,306.2 499.1,306.1 499.6,305.8 500.1,305.8 500.6,306 501.1,305.9 501.6,306.3 502.1,306.3 502.6,306 503.1,305.9 503.6,305.8 504.1,306.2 504.6,305.7 505.1,306 505.6,305.8 506.1,305.9 506.6,306.3 507.1,305.9 507.6,305.7 508.1,306.1 508.6,305.7 509.1,306 509.6,306.2 510.1,305.8 510.6,306.2 511.1,305.7 511.6,306.2 512.1,306.2 512.6,306.1 513.1,306.3 513.6,306.2 514.1,305.9 514.6,306.1 515.1,306 515.6,305.8 516.1,305.7 516.6,306.3 517.1,306.1 517.6,305.7 518.1,306.2 518.6,305.7 519.1,306.2 519.6,306.2 520.1,305.7 520.6,306.3 521.1,305.7 521.6,305.7 522.1,305.7 522.6,306.1 523.1,305.9 523.6,305.7 524.1,305.8 524.6,306.1 525.1,306 525.6,305.7 526.1,305.9 526.6,306.2 527.1,305.9 527.6,306.3 528.1,306 528.6,306.3 529.1,306 529.6,306.3 530.1,305.8 530.1,310.5 529.6,310.6 529.1,310.8 528.6,311.1 528.1,310.7 527.6,310.9 527.1,310.6 526.6,310.6 526.1,310.6 525.6,310.7 525.1,310.9 524.6,311 524.1,311 523.6,310.7 523.1,310.8 522.6,311.1 522.1,310.6 521.6,310.9 521.1,311 520.6,310.6 520.1,310.7 519.6,310.6 519.1,310.8 518.6,310.6 518.1,310.7 517.6,311 517.1,310.9 516.6,310.6 516.1,311.1 515.6,310.8 515.1,310.6 514.6,311 514.1,310.9 513.6,311.1 513.1,310.7 512.6,311 512.1,311 511.6,310.5 511.1,311.1 510.6,310.6 510.1,311.1 509.6,311 509.1,310.6 508.6,311 508.1,310.9 507.6,310.7 507.1,310.6 506.6,310.5 506.1,310.8 505.6,311 505.1,311.1 504.6,310.6 504.1,311.1 503.6,310.8 503.1,311 502.6,310.7 502.1,310.6 501.6,311 501.1,310.9 500.6,310.9 500.1,310.9 499.6,310.7 499.1,311 498.6,310.5 498.1,310.5 497.6,310.7 497.1,311.1 496.6,310.8 496.1,310.8 495.6,311.1 495.1,310.8 494.6,310.5 494.1,310.8 493.6,310.8 493.1,310.8 492.6,310.9 492.1,310.7 491.6,310.9 491.1,311.1 490.6,311.1 490.1,310.9 489.6,310.5 489.1,311.1 488.6,310.9 488.1,310.9 487.6,311 487.1,310.7 486.6,310.7 486.1,310.5 485.6,310.6 485.1,310.5 484.6,310.9 484.1,311.1 483.6,311 483.1,310.5 482.6,310.5 482.1,310.6 481.6,310.9 481.1,310.8 480.6,310.7 480.1,310.7 479.6,310.9 479.1,311 478.6,311.1 478.1,310.8 477.6,310.8 477.1,310.6 476.6,310.6 476.1,311 475.6,311.1 475.1,310.7 474.6,310.5 474.1,311.1 473.6,310.6 473.1,310.9 472.6,310.7 472.1,310.8 471.6,311 471.1,310.9 470.6,311.1 470.1,310.7 469.6,310.7 469.1,310.7 468.6,311 468.1,310.9 467.6,311 467.1,310.9 466.6,310.7 466.1,310.8 465.6,311 465.1,310.9 464.6,310.9 464.1,311 463.6,311.1 463.1,310.7 462.6,310.7 462.1,310.8 461.6,310.9 461.1,310.5 460.6,310.6 460.1,310.5 459.6,311.1 459.1,310.7 458.6,310.5 458.1,310.6 457.6,311 457.1,311 456.6,311 456.1,310.5 455.6,310.6 455.1,310.6 454.6,310.9 454.1,311 453.6,310.7 453.1,310.8 452.6,310.6 452.1,311 451.6,311 451.1,310.6 450.6,310.8 450.1,311 449.6,311.1 449.1,310.8 448.6,310.7 448.1,311 447.6,310.7 447.1,310.7 446.6,310.6 446.1,310.9 445.6,310.8 445.1,310.9 444.6,310.9 444.1,310.6 443.6,310.6 443.1,311.1 442.6,310.8 442.1,310.9 441.6,310.6 441.1,311 440.6,311.1 440.1,311.1 439.6,310.6 439.1,310.7 438.6,311 438.1,310.8 437.6,310.6 437.1,311 436.6,310.9 436.1,310.7 435.6,310.6 435.1,310.6 434.6,310.6 434.1,310.9 433.6,310.5"/>
<polygon class="bi" points="555.5,306 556,305.8 556.5,306.3 557,305.9 557.5,306.3 558,305.7 558.5,306.2 559,306.1 559.5,306 560,306 560.5,306.3 561,306.3 561.5,306.3 562,306.3 562.5,306.3 563,306.3 563.5,306.2 564,305.9 564.5,305.8 565,306 565.5,305.8 566,306.2 566.5,306.3 567,305.9 567.5,306.1 568,306.3 568.5,305.9 569,305.7 569.5,306.1 570,306.3 570.5,305.9 571,305.8 571.5,306.1 572,305.9 572.5,305.9 573,306 573.5,306 574,305.7 574.5,305.9 575,306.3 575.5,306.2 576,306 576.5,305.7 577,306.1 577.5,305.9 578,306.2 578.5,305.7 579,306.1 579.5,305.7 580,305.7 580.5,306.1 581,306 581.5,305.8 582,306.2 582.5,306.2 583,306.2 583.5,306.1 584,306 584.5,306.3 585,306 585.5,305.7 586,305.8 586.5,305.7 587,306.3 587.5,306.2 588,305.8 588.5,305.9 589,305.9 589.5,306.1 590,306.3 590.5,306.3 591,306.3 591.5,306 592,306.2 592.5,305.8 593,306 593.5,306 594,306.2 594.5,306 595,305.8 595.5,306.2 596,306 596.5,306.1 597,306 597.5,306.2 598,305.9 598.5,305.7 599,306.2 599.5,305.8 600,305.7 600.5,305.8 601,305.8 601.5,305.8 602,306.3 602.5,306.2 603,306 603.5,306.3 603.5,311.1 603,310.6 602.5,310.9 602,310.6 601.5,311.1 601,310.8 600.5,310.5 600,311 599.5,311 599,310.9 598.5,310.7 598,310.7 597.5,310.6 597,310.9 596.5,310.6 596,311 595.5,310.9 595,310.9 594.5,310.5 594,310.6 593.5,310.5 593,311 592.5,311 592,310.7 591.5,310.7 591,310.5 590.5,310.5 590,310.7 589.5,311 589,311 588.5,311 588,310.9 587.5,310.7 587,311 586.5,310.8 586,311 585.5,310.7 585,310.9 584.5,310.9 584,310.6 583.5,310.7 583,310.9 582.5,310.7 582,310.8 581.5,310.6 581,310.6 580.5,310.6 580,311 579.5,310.8 579,310.6 578.5,310.8 578,310.7 577.5,311.1 577,310.9 576.5,310.5 576,310.8 575.5,310.8 575,310.6 574.5,311 574,310.6 573.5,310.6 573,311.1 572.5,310.8 572,310.6 571.5,310.8 571,311.1 570.5,310.7 570,310.7 569.5,310.8 569,310.8 568.5,310.5 568,310.9 567.5,311.1 567,310.7 566.5,310.6 566,310.5 565.5,311 565,310.7 564.5,311 564,311 563.5,311 563,310.5 562.5,310.7 562,310.9 561.5,310.5 561,310.8 560.5,311.1 560,310.8 559.5,310.7 559,310.7 558.5,311.1 558,310.9 557.5,310.7 557,311 556.5,310.8 556,310.8 555.5,311"/>
<polygon class="bi" points="38.3,200.1 38.8,200.3 39.3,200.4 39.8,200.1 40.3,200.3 40.8,200.7 41.3,200.2 41.8,200.3 42.3,200.2 42.8,200.5 43.3,200.3 43.8,200.6 44.3,200.3 44.8,200.6 45.3,200.4 45.8,200.1 46.3,200.5 46.8,200.7 47.3,200.1 47.8,200.2 48.3,200.6 48.8,200.4 49.3,200.2 49.8,200.3 50.3,200.2 50.8,200.1 51.3,200.1 51.8,200.4 52.3,200.6 52.8,200.5 53.3,200.1 53.8,200.6 54.3,200.7 54.8,200.3 55.3,200.3 55.8,200.7 56.3,200.4 56.8,200.1 57.3,200.6 57.8,200.5 58.3,200.7 58.8,200.6 59.3,200.3 59.8,200.3 60.3,200.1 60.8,200.3 61.3,200.4 61.8,200.3 62.3,200.1 62.8,200.1 63.3,200.5 63.8,200.7 64.3,200.7 64.3,205.8 63.8,206.4 63.3,206 62.8,206.4 62.3,206.1 61.8,206.1 61.3,206.3 60.8,206.3 60.3,206.4 59.8,206.3 59.3,206.2 58.8,206.3 58.3,205.8 57.8,205.8 57.3,206.3 56.8,206.3 56.3,206.4 55.8,205.9 55.3,206.4 54.8,206.4 54.3,206 53.8,206.1 53.3,205.9 52.8,206.4 52.3,205.8 51.8,205.9 51.3,205.9 50.8,205.9 50.3,206.2 49.8,206.4 49.3,206.2 48.8,206.2 48.3,206 47.8,206.1 47.3,206.2 46.8,206.4 46.3,205.8 45.8,206.4 45.3,206 44.8,206.1 44.3,206.4 43.8,206.3 43.3,206.1 42.8,206.1 42.3,205.9 41.8,205.8 41.3,205.8 40.8,205.9 40.3,205.8 39.8,206.3 39.3,206.4 38.8,205.9 38.3,206"/>
<polygon class="bi" points="161.4,200.5 161.9,200.5 162.4,200.7 162.9,200.5 163.4,200.2 163.9,200.7 164.4,200.1 164.9,200.7 165.4,200.2 165.9,200.7 166.4,200.5 166.9,200.3 167.4,200.1 167.9,200.1 168.4,200.1 168.9,200.6 169.4,200.1 169.9,200.4 170.4,200.2 170.9,200.6 171.4,200.7 171.9,200.2 172.4,200.4 172.9,200.4 173.4,200.4 173.9,200.7 174.4,200.1 174.9,200.3 175.4,200.3 175.9,200.7 176.4,200.7 176.9,200.6 177.4,200.3 177.9,200.2 178.4,200.5 178.9,200.2 179.4,200.6 179.9,200.7 180.4,200.2 180.9,200.6 181.4,200.5 181.9,200.4 182.4,200.7 182.9,200.5 183.4,200.4 183.9,200.5 184.4,200.3 184.9,200.4 185.4,200.3 185.9,200.3 186.4,200.7 186.9,200.1 186.9,206.3 186.4,205.8 185.9,206 185.4,206 184.9,206.1 184.4,206 183.9,205.8 183.4,206.3 182.9,206.2 182.4,206.2 181.9,206.1 181.4,206.3 180.9,206.3 180.4,205.8 179.9,205.8 179.4,206.3 178.9,206 178.4,206.3 177.9,206.1 177.4,206.3 176.9,206.3 176.4,206.2 175.9,206.1 175.4,205.8 174.9,205.8 174.4,206 173.9,205.9 173.4,206.1 172.9,206.4 172.4,206.2 171.9,205.9 171.4,206 170.9,205.8 170.4,206.1 169.9,206.1 169.4,206.2 168.9,206.3 168.4,206.4 167.9,206.4 167.4,206 166.9,206.4 166.4,205.8 165.9,206.2 165.4,205.9 164.9,206.3 164.4,205.8 163.9,205.9 163.4,205.8 162.9,206.3 162.4,206.1 161.9,205.8 161.4,206.3"/>
<polygon class="bi" points="287.2,200.3 287.7,200.5 288.2,200.2 288.7,200.7 289.2,200.3 289.7,200.3 290.2,200.7 290.7,200.2 291.2,200.5 291.7,200.4 292.2,200.2 292.7,200.7 293.2,200.1 293.7,200.7 294.2,200.4 294.7,200.1 295.2,200.1 295.7,200.5 296.2,200.7 296.7,200.5 297.2,200.5 297.7,200.2 298.2,200.6 298.7,200.2 299.2,200.5 299.7,200.4 300.2,200.2 300.7,200.3 301.2,200.7 301.7,200.5 302.2,200.3 302.7,200.5 303.2,200.1 303.7,200.4 304.2,200.3 304.7,200.7 305.2,200.2 305.7,200.2 306.2,200.2 306.7,200.4 307.2,200.2 307.7,200.1 308.2,200.3 308.7,200.6 309.2,200.4 309.7,200.6 310.2,200.3 310.7,200.2 311.2,200.4 311.7,200.3 312.2,200.1 312.7,200.3 312.7,206.2 312.2,206.4 311.7,205.9 311.2,206.2 310.7,206.4 310.2,206.4 309.7,206.4 309.2,206 308.7,206 308.2,206 307.7,205.9 307.2,205.9 306.7,206.4 306.2,205.9 305.7,206.3 305.2,206.2 304.7,206.1 304.2,206.2 303.7,205.9 303.2,205.8 302.7,206 302.2,206.2 301.7,205.8 301.2,206 300.7,206.4 300.2,206.3 299.7,206.3 299.2,206 298.7,206 298.2,205.8 297.7,206.4 297.2,206 296.7,205.8 296.2,206.4 295.7,206.1 295.2,206.3 294.7,206.3 294.2,205.9 293.7,206.3 293.2,206.2 292.7,206.4 292.2,206.3 291.7,206 291.2,206.3 290.7,205.9 290.2,206.3 289.7,205.8 289.2,206.1 288.7,206.4 288.2,205.8 287.7,206 287.2,206.1"/>
<polygon class="bi" points="408.5,200.4 409,200.2 409.5,200.3 410,200.4 410.5,200.5 411,200.1 411.5,200.2 412,200.4 412.5,200.2 413,200.2 413.5,200.6 414,200.5 414.5,200.5 415,200.1 415.5,200.2 416,200.6 416.5,200.4 417,200.7 417.5,200.3 418,200.7 418.5,200.6 419,200.5 419.5,200.7 420,200.1 420.5,200.6 421,200.5 421.5,200.2 422,200.1 422.5,200.1 423,200.3 423.5,200.4 424,200.2 424.5,200.5 425,200.4 425.5,200.7 426,200.2 426.5,200.4 427,200.4 427.5,200.7 428,200.1 428.5,200.1 429,200.2 429.5,200.6 430,200.3 430.5,200.5 431,200.5 431.5,200.3 432,200.5 432.5,200.1 433,200.3 433,205.8 432.5,205.9 432,206 431.5,205.9 431,206.3 430.5,205.8 430,206.3 429.5,205.8 429,206.2 428.5,206 428,206.3 427.5,206.1 427,206.3 426.5,206.1 426,205.9 425.5,205.8 425,205.9 424.5,206.2 424,205.9 423.5,206.4 423,205.9 422.5,206.2 422,206.4 421.5,205.9 421,206.2 420.5,206.4 420,205.9 419.5,206 419,206 418.5,205.8 418,205.9 417.5,205.8 417,206.3 416.5,205.9 416,206.2 415.5,206.1 415,205.9 414.5,205.8 414,206.4 413.5,206.3 413,206 412.5,206 412,206 411.5,206.3 411,205.9 410.5,206.1 410,205.8 409.5,206.2 409,205.9 408.5,206.1"/>
<polygon class="bi" points="530.5,200.3 531,200.4 531.5,200.6 532,200.3 532.5,200.7 533,200.6 533.5,200.6 534,200.1 534.5,200.1 535,200.3 535.5,200.4 536,200.5 536.5,200.6 537,200.3 537.5,200.6 538,200.3 538.5,200.2 539,200.4 539.5,200.3 540,200.4 540.5,200.7 541,200.5 541.5,200.7 542,200.4 542.5,200.2 543,200.6 543.5,200.1 544,200.7 544.5,200.6 545,200.4 545.5,200.3 546,200.1 546.5,200.1 547,200.5 547.5,200.6 548,200.7 548.5,200.1 549,200.6 549.5,200.4 550,200.2 550.5,200.7 551,200.3 551.5,200.2 552,200.6 552.5,200.3 553,200.4 553.5,200.3 554,200.5 554.5,200.4 555,200.4 555,206.4 554.5,206.3 554,206.1 553.5,206.4 553,206.3 552.5,206.3 552,206.2 551.5,206.4 551,206.1 550.5,206.3 550,206.1 549.5,206.3 549,205.9 548.5,205.9 548,205.8 547.5,206.2 547,206.2 546.5,205.8 546,206.4 545.5,206.1 545,206.1 544.5,206.1 544,205.8 543.5,205.9 543,206 542.5,206.4 542,206 541.5,206.3 541,206 540.5,206 540,206.3 539.5,206 539,206.3 538.5,206.3 538,206 537.5,206.2 537,205.9 536.5,206.4 536,206.3 535.5,205.8 535,206 534.5,206.4 534,205.9 533.5,206.2 533,206.1 532.5,206.4 532,206.4 531.5,205.8 531,206 530.5,206.1"/>
</g>
<polygon points="1.2,114 1.2,123.8 6,118.9" fill="#8fdc8f"/>
<polygon points="1.1,306.2 1.1,315.7 6.3,311" fill="#8e8e7e"/>
<path d="M1.1 306.2L6.3 311L1.1 315.7" fill="none" stroke="#2626ff" stroke-width=".8"/>
<polygon points="403,3 410,3 406.4,6.6" fill="#ff9a1a"/>
<polygon points="402.2,7 410.3,7 410.3,13.2 406.3,15.9 402.2,13.2" fill="#ff9410"/>
<text class="trg" x="406.3" y="13.5" text-anchor="middle">T</text>
<polygon points="350.8,.6 355.2,.6 353,2.6" fill="#f0a030"/>
<g class="lbl">
<text y="57.8"><tspan x="23.1" textLength="25.7" lengthAdjust="spacingAndGlyphs">Pri.</tspan> <tspan x="52.8" textLength="59.6" lengthAdjust="spacingAndGlyphs">Current</tspan> <tspan x="119.1" textLength="62.6" lengthAdjust="spacingAndGlyphs">[1A/div]</tspan></text>
<text y="182.3"><tspan x="23.7" textLength="24.7" lengthAdjust="spacingAndGlyphs">SW</tspan> <tspan x="54.4" textLength="73.1" lengthAdjust="spacingAndGlyphs">[20V/div]</tspan></text>
<text y="368.4"><tspan x="501.5" textLength="69.7" lengthAdjust="spacingAndGlyphs">[2us/div]</tspan></text>
<text y="409.8"><tspan x="31.4" textLength="11.1" lengthAdjust="spacingAndGlyphs">V</tspan><tspan x="42.1" font-size="10.5" dy="1.8" textLength="11.6" lengthAdjust="spacingAndGlyphs">IN</tspan><tspan x="53.1" dy="-1.8" textLength="40.5" lengthAdjust="spacingAndGlyphs">=60V</tspan></text>
<text y="411.7"><tspan x="213.2" textLength="5.3" lengthAdjust="spacingAndGlyphs">I</tspan><tspan x="217.2" font-size="10.5" dy="1.9" textLength="30.4" lengthAdjust="spacingAndGlyphs">OUT1</tspan><tspan x="247.3" dy="-1.9" textLength="44" lengthAdjust="spacingAndGlyphs">=0.4A</tspan></text>
<text y="415.2"><tspan x="433.9" textLength="5.6" lengthAdjust="spacingAndGlyphs">I</tspan><tspan x="438.6" font-size="10.5" dy="2.4" textLength="30" lengthAdjust="spacingAndGlyphs">OUT2</tspan><tspan x="468.5" dy="-2.4" textLength="9.7" lengthAdjust="spacingAndGlyphs">=</tspan> <tspan x="482.3" textLength="5.6" lengthAdjust="spacingAndGlyphs">I</tspan><tspan x="486.9" font-size="10.5" dy="2.4" textLength="29.7" lengthAdjust="spacingAndGlyphs">OUT3</tspan><tspan x="516.5" dy="-2.4" textLength="44.5" lengthAdjust="spacingAndGlyphs">=0.1A</tspan></text>
</g>
</svg>
</body>
</html>
